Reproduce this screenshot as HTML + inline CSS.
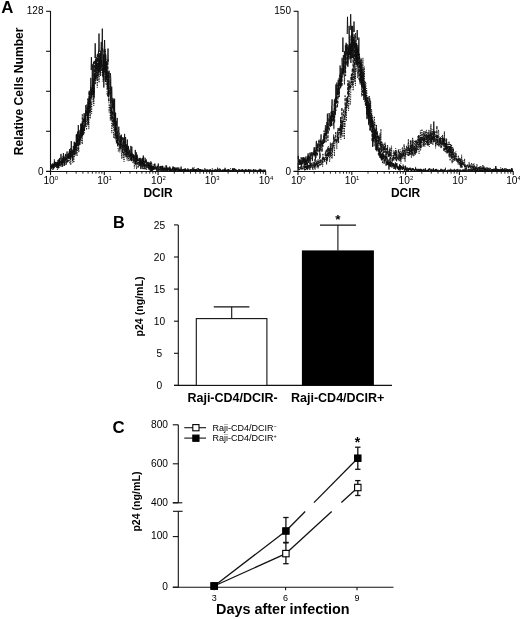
<!DOCTYPE html>
<html><head><meta charset="utf-8"><style>
html,body{margin:0;padding:0;background:#fff;}
svg{display:block;will-change:transform;}
text{font-family:"Liberation Sans", sans-serif;fill:#000;}
</style></head><body>
<svg width="520" height="619" viewBox="0 0 520 619">
<rect width="520" height="619" fill="#fff"/>
<line x1="50.50" y1="11.00" x2="50.50" y2="172.00" stroke="#111" stroke-width="1.1"/>
<line x1="46.10" y1="11.30" x2="50.50" y2="11.30" stroke="#111" stroke-width="1.1"/>
<line x1="46.10" y1="51.30" x2="50.50" y2="51.30" stroke="#111" stroke-width="1.1"/>
<line x1="46.10" y1="91.30" x2="50.50" y2="91.30" stroke="#111" stroke-width="1.1"/>
<line x1="46.10" y1="131.30" x2="50.50" y2="131.30" stroke="#111" stroke-width="1.1"/>
<line x1="46.10" y1="171.30" x2="50.50" y2="171.30" stroke="#111" stroke-width="1.1"/>
<line x1="46.10" y1="171.50" x2="266.10" y2="171.50" stroke="#111" stroke-width="1.1"/>
<line x1="50.50" y1="171.50" x2="50.50" y2="175.10" stroke="#111" stroke-width="1.1"/>
<line x1="66.70" y1="171.50" x2="66.70" y2="173.70" stroke="#111" stroke-width="0.9"/>
<line x1="76.17" y1="171.50" x2="76.17" y2="173.70" stroke="#111" stroke-width="0.9"/>
<line x1="82.89" y1="171.50" x2="82.89" y2="173.70" stroke="#111" stroke-width="0.9"/>
<line x1="88.10" y1="171.50" x2="88.10" y2="173.70" stroke="#111" stroke-width="0.9"/>
<line x1="92.36" y1="171.50" x2="92.36" y2="173.70" stroke="#111" stroke-width="0.9"/>
<line x1="95.97" y1="171.50" x2="95.97" y2="173.70" stroke="#111" stroke-width="0.9"/>
<line x1="99.09" y1="171.50" x2="99.09" y2="173.70" stroke="#111" stroke-width="0.9"/>
<line x1="101.84" y1="171.50" x2="101.84" y2="173.70" stroke="#111" stroke-width="0.9"/>
<text x="50.80" y="184.4" font-size="10.2" text-anchor="middle">10<tspan font-size="6" dy="-4.4">0</tspan></text>
<line x1="104.30" y1="171.50" x2="104.30" y2="175.10" stroke="#111" stroke-width="1.1"/>
<line x1="120.50" y1="171.50" x2="120.50" y2="173.70" stroke="#111" stroke-width="0.9"/>
<line x1="129.97" y1="171.50" x2="129.97" y2="173.70" stroke="#111" stroke-width="0.9"/>
<line x1="136.69" y1="171.50" x2="136.69" y2="173.70" stroke="#111" stroke-width="0.9"/>
<line x1="141.90" y1="171.50" x2="141.90" y2="173.70" stroke="#111" stroke-width="0.9"/>
<line x1="146.16" y1="171.50" x2="146.16" y2="173.70" stroke="#111" stroke-width="0.9"/>
<line x1="149.77" y1="171.50" x2="149.77" y2="173.70" stroke="#111" stroke-width="0.9"/>
<line x1="152.89" y1="171.50" x2="152.89" y2="173.70" stroke="#111" stroke-width="0.9"/>
<line x1="155.64" y1="171.50" x2="155.64" y2="173.70" stroke="#111" stroke-width="0.9"/>
<text x="104.60" y="184.4" font-size="10.2" text-anchor="middle">10<tspan font-size="6" dy="-4.4">1</tspan></text>
<line x1="158.10" y1="171.50" x2="158.10" y2="175.10" stroke="#111" stroke-width="1.1"/>
<line x1="174.30" y1="171.50" x2="174.30" y2="173.70" stroke="#111" stroke-width="0.9"/>
<line x1="183.77" y1="171.50" x2="183.77" y2="173.70" stroke="#111" stroke-width="0.9"/>
<line x1="190.49" y1="171.50" x2="190.49" y2="173.70" stroke="#111" stroke-width="0.9"/>
<line x1="195.70" y1="171.50" x2="195.70" y2="173.70" stroke="#111" stroke-width="0.9"/>
<line x1="199.96" y1="171.50" x2="199.96" y2="173.70" stroke="#111" stroke-width="0.9"/>
<line x1="203.57" y1="171.50" x2="203.57" y2="173.70" stroke="#111" stroke-width="0.9"/>
<line x1="206.69" y1="171.50" x2="206.69" y2="173.70" stroke="#111" stroke-width="0.9"/>
<line x1="209.44" y1="171.50" x2="209.44" y2="173.70" stroke="#111" stroke-width="0.9"/>
<text x="158.40" y="184.4" font-size="10.2" text-anchor="middle">10<tspan font-size="6" dy="-4.4">2</tspan></text>
<line x1="211.90" y1="171.50" x2="211.90" y2="175.10" stroke="#111" stroke-width="1.1"/>
<line x1="228.10" y1="171.50" x2="228.10" y2="173.70" stroke="#111" stroke-width="0.9"/>
<line x1="237.57" y1="171.50" x2="237.57" y2="173.70" stroke="#111" stroke-width="0.9"/>
<line x1="244.29" y1="171.50" x2="244.29" y2="173.70" stroke="#111" stroke-width="0.9"/>
<line x1="249.50" y1="171.50" x2="249.50" y2="173.70" stroke="#111" stroke-width="0.9"/>
<line x1="253.76" y1="171.50" x2="253.76" y2="173.70" stroke="#111" stroke-width="0.9"/>
<line x1="257.37" y1="171.50" x2="257.37" y2="173.70" stroke="#111" stroke-width="0.9"/>
<line x1="260.49" y1="171.50" x2="260.49" y2="173.70" stroke="#111" stroke-width="0.9"/>
<line x1="263.24" y1="171.50" x2="263.24" y2="173.70" stroke="#111" stroke-width="0.9"/>
<text x="212.20" y="184.4" font-size="10.2" text-anchor="middle">10<tspan font-size="6" dy="-4.4">3</tspan></text>
<line x1="265.70" y1="171.50" x2="265.70" y2="175.10" stroke="#111" stroke-width="1.1"/>
<text x="266.00" y="184.4" font-size="10.2" text-anchor="middle">10<tspan font-size="6" dy="-4.4">4</tspan></text>
<text x="43.50" y="14.30" font-size="10" font-weight="normal" text-anchor="end" >128</text>
<text x="43.50" y="175.00" font-size="10" font-weight="normal" text-anchor="end" >0</text>
<text x="158.10" y="196.50" font-size="12" font-weight="bold" text-anchor="middle" >DCIR</text>
<line x1="298.00" y1="11.00" x2="298.00" y2="172.00" stroke="#111" stroke-width="1.1"/>
<line x1="293.60" y1="11.30" x2="298.00" y2="11.30" stroke="#111" stroke-width="1.1"/>
<line x1="293.60" y1="51.30" x2="298.00" y2="51.30" stroke="#111" stroke-width="1.1"/>
<line x1="293.60" y1="91.30" x2="298.00" y2="91.30" stroke="#111" stroke-width="1.1"/>
<line x1="293.60" y1="131.30" x2="298.00" y2="131.30" stroke="#111" stroke-width="1.1"/>
<line x1="293.60" y1="171.30" x2="298.00" y2="171.30" stroke="#111" stroke-width="1.1"/>
<line x1="293.60" y1="171.50" x2="513.60" y2="171.50" stroke="#111" stroke-width="1.1"/>
<line x1="298.00" y1="171.50" x2="298.00" y2="175.10" stroke="#111" stroke-width="1.1"/>
<line x1="314.20" y1="171.50" x2="314.20" y2="173.70" stroke="#111" stroke-width="0.9"/>
<line x1="323.67" y1="171.50" x2="323.67" y2="173.70" stroke="#111" stroke-width="0.9"/>
<line x1="330.39" y1="171.50" x2="330.39" y2="173.70" stroke="#111" stroke-width="0.9"/>
<line x1="335.60" y1="171.50" x2="335.60" y2="173.70" stroke="#111" stroke-width="0.9"/>
<line x1="339.86" y1="171.50" x2="339.86" y2="173.70" stroke="#111" stroke-width="0.9"/>
<line x1="343.47" y1="171.50" x2="343.47" y2="173.70" stroke="#111" stroke-width="0.9"/>
<line x1="346.59" y1="171.50" x2="346.59" y2="173.70" stroke="#111" stroke-width="0.9"/>
<line x1="349.34" y1="171.50" x2="349.34" y2="173.70" stroke="#111" stroke-width="0.9"/>
<text x="298.30" y="184.4" font-size="10.2" text-anchor="middle">10<tspan font-size="6" dy="-4.4">0</tspan></text>
<line x1="351.80" y1="171.50" x2="351.80" y2="175.10" stroke="#111" stroke-width="1.1"/>
<line x1="368.00" y1="171.50" x2="368.00" y2="173.70" stroke="#111" stroke-width="0.9"/>
<line x1="377.47" y1="171.50" x2="377.47" y2="173.70" stroke="#111" stroke-width="0.9"/>
<line x1="384.19" y1="171.50" x2="384.19" y2="173.70" stroke="#111" stroke-width="0.9"/>
<line x1="389.40" y1="171.50" x2="389.40" y2="173.70" stroke="#111" stroke-width="0.9"/>
<line x1="393.66" y1="171.50" x2="393.66" y2="173.70" stroke="#111" stroke-width="0.9"/>
<line x1="397.27" y1="171.50" x2="397.27" y2="173.70" stroke="#111" stroke-width="0.9"/>
<line x1="400.39" y1="171.50" x2="400.39" y2="173.70" stroke="#111" stroke-width="0.9"/>
<line x1="403.14" y1="171.50" x2="403.14" y2="173.70" stroke="#111" stroke-width="0.9"/>
<text x="352.10" y="184.4" font-size="10.2" text-anchor="middle">10<tspan font-size="6" dy="-4.4">1</tspan></text>
<line x1="405.60" y1="171.50" x2="405.60" y2="175.10" stroke="#111" stroke-width="1.1"/>
<line x1="421.80" y1="171.50" x2="421.80" y2="173.70" stroke="#111" stroke-width="0.9"/>
<line x1="431.27" y1="171.50" x2="431.27" y2="173.70" stroke="#111" stroke-width="0.9"/>
<line x1="437.99" y1="171.50" x2="437.99" y2="173.70" stroke="#111" stroke-width="0.9"/>
<line x1="443.20" y1="171.50" x2="443.20" y2="173.70" stroke="#111" stroke-width="0.9"/>
<line x1="447.46" y1="171.50" x2="447.46" y2="173.70" stroke="#111" stroke-width="0.9"/>
<line x1="451.07" y1="171.50" x2="451.07" y2="173.70" stroke="#111" stroke-width="0.9"/>
<line x1="454.19" y1="171.50" x2="454.19" y2="173.70" stroke="#111" stroke-width="0.9"/>
<line x1="456.94" y1="171.50" x2="456.94" y2="173.70" stroke="#111" stroke-width="0.9"/>
<text x="405.90" y="184.4" font-size="10.2" text-anchor="middle">10<tspan font-size="6" dy="-4.4">2</tspan></text>
<line x1="459.40" y1="171.50" x2="459.40" y2="175.10" stroke="#111" stroke-width="1.1"/>
<line x1="475.60" y1="171.50" x2="475.60" y2="173.70" stroke="#111" stroke-width="0.9"/>
<line x1="485.07" y1="171.50" x2="485.07" y2="173.70" stroke="#111" stroke-width="0.9"/>
<line x1="491.79" y1="171.50" x2="491.79" y2="173.70" stroke="#111" stroke-width="0.9"/>
<line x1="497.00" y1="171.50" x2="497.00" y2="173.70" stroke="#111" stroke-width="0.9"/>
<line x1="501.26" y1="171.50" x2="501.26" y2="173.70" stroke="#111" stroke-width="0.9"/>
<line x1="504.87" y1="171.50" x2="504.87" y2="173.70" stroke="#111" stroke-width="0.9"/>
<line x1="507.99" y1="171.50" x2="507.99" y2="173.70" stroke="#111" stroke-width="0.9"/>
<line x1="510.74" y1="171.50" x2="510.74" y2="173.70" stroke="#111" stroke-width="0.9"/>
<text x="459.70" y="184.4" font-size="10.2" text-anchor="middle">10<tspan font-size="6" dy="-4.4">3</tspan></text>
<line x1="513.20" y1="171.50" x2="513.20" y2="175.10" stroke="#111" stroke-width="1.1"/>
<text x="513.50" y="184.4" font-size="10.2" text-anchor="middle">10<tspan font-size="6" dy="-4.4">4</tspan></text>
<text x="291.00" y="14.30" font-size="10" font-weight="normal" text-anchor="end" >150</text>
<text x="291.00" y="175.00" font-size="10" font-weight="normal" text-anchor="end" >0</text>
<text x="405.60" y="196.50" font-size="12" font-weight="bold" text-anchor="middle" >DCIR</text>
<text x="1.20" y="12.60" font-size="16.8" font-weight="bold" text-anchor="start" >A</text>
<text transform="translate(23.4,91.3) rotate(-90)" font-size="12.1" font-weight="bold" text-anchor="middle">Relative Cells Number</text>
<path d="M101.9,50 L102.3,28.6 L102.7,50" fill="none" stroke="#000" stroke-width="0.8"/>
<path d="M98.6,52 L99.0,33.5 L99.4,52" fill="none" stroke="#000" stroke-width="0.8"/>
<path d="M94.8,58 L95.2,43.3 L95.6,58" fill="none" stroke="#000" stroke-width="0.8"/>
<path d="M107.6,62 L108.0,48.5 L108.4,62" fill="none" stroke="#000" stroke-width="0.8"/>
<path d="M91.0,70 L91.4,57.2 L91.8,70" fill="none" stroke="#000" stroke-width="0.8"/>
<path d="M104.2,52 L104.6,40 L105.0,52" fill="none" stroke="#000" stroke-width="0.8"/>
<path d="M350.3,30 L350.7,14.2 L351.1,30" fill="none" stroke="#000" stroke-width="0.8"/>
<path d="M347.1,34 L347.5,16.8 L347.9,34" fill="none" stroke="#000" stroke-width="0.8"/>
<path d="M353.6,32 L354.0,21.5 L354.4,32" fill="none" stroke="#000" stroke-width="0.8"/>
<path d="M342.5,52 L342.9,37.5 L343.3,52" fill="none" stroke="#000" stroke-width="0.8"/>
<path d="M356.8,40 L357.2,30 L357.6,40" fill="none" stroke="#000" stroke-width="0.8"/>
<path d="M433.4,134 L433.8,121.5 L434.2,134" fill="none" stroke="#000" stroke-width="0.8"/>
<defs><filter id="soft" x="-5%" y="-5%" width="110%" height="110%"><feGaussianBlur stdDeviation="0.3"/></filter></defs>
<g filter="url(#soft)">
<path d="M50.6,164.3 50.9,165.1 51.1,164.3 51.4,165.9 51.6,165.1 51.9,165.1 52.1,166.7 52.4,163.5 52.6,164.0 52.9,166.7 53.1,168.3 53.4,164.3 53.6,165.9 53.9,163.5 54.1,166.7 54.4,161.9 54.6,164.3 54.9,162.7 55.1,162.7 55.4,165.1 55.6,163.5 55.9,161.9 56.1,165.9 56.4,164.3 56.6,162.7 56.9,166.7 57.1,162.7 57.4,161.9 57.6,164.3 57.9,167.5 58.1,163.5 58.4,159.5 58.6,168.3 58.9,164.3 59.1,163.5 59.4,158.7 59.6,161.1 59.9,165.9 60.1,165.9 60.4,160.3 60.6,159.5 60.9,153.9 61.1,154.7 61.4,158.7 61.6,164.3 61.9,160.3 62.1,160.3 62.4,160.3 62.6,166.7 62.9,159.5 63.1,161.9 63.4,153.1 63.6,158.7 63.9,165.4 64.1,165.1 64.3,165.9 64.6,164.3 64.8,157.9 65.1,160.3 65.3,154.7 65.6,153.9 65.8,156.3 66.1,160.3 66.3,157.1 66.6,157.1 66.8,153.9 67.1,151.5 67.3,158.7 67.6,156.3 67.8,154.7 68.1,153.9 68.3,156.3 68.6,153.9 68.8,153.1 69.1,156.3 69.3,154.7 69.6,149.1 69.8,153.9 70.1,151.5 70.3,158.7 70.6,150.7 70.8,154.7 71.1,152.3 71.3,141.1 71.6,153.9 71.8,153.9 72.1,149.9 72.3,151.5 72.6,153.9 72.8,160.3 73.1,149.9 73.3,145.9 73.6,148.3 73.8,149.1 74.1,152.3 74.3,148.3 74.6,141.9 74.8,145.1 75.1,149.9 75.3,146.7 75.6,143.5 75.8,149.9 76.1,142.7 76.3,134.7 76.6,146.7 76.8,133.9 77.1,137.1 77.3,142.7 77.6,131.5 77.8,145.9 78.1,141.1 78.3,125.1 78.6,133.9 78.8,133.9 79.1,141.1 79.3,145.1 79.6,137.1 79.8,136.3 80.1,129.9 80.3,140.3 80.6,132.3 80.8,124.3 81.1,129.9 81.3,137.9 81.6,126.7 81.8,124.3 82.1,131.5 82.3,122.7 82.6,136.3 82.8,128.3 83.1,127.5 83.3,122.7 83.6,118.7 83.8,122.7 84.1,113.1 84.3,121.9 84.6,121.1 84.8,118.7 85.1,113.9 85.3,114.7 85.6,125.1 85.8,105.1 86.1,111.5 86.3,112.3 86.6,113.1 86.8,106.7 87.1,104.3 87.3,107.5 87.6,116.3 87.8,120.4 88.1,121.1 88.3,98.7 88.6,114.7 88.8,102.7 89.1,109.1 89.3,90.7 89.6,98.7 89.8,104.3 90.1,96.3 90.3,97.9 90.6,96.3 90.8,77.9 91.1,93.1 91.3,97.1 91.6,91.5 91.8,90.3 92.1,87.5 92.3,64.3 92.6,91.5 92.8,94.7 93.1,82.7 93.3,64.3 93.6,61.9 93.8,73.1 94.1,97.9 94.3,73.1 94.6,73.9 94.8,79.5 95.1,81.1 95.3,75.5 95.6,58.7 95.8,65.1 96.1,68.3 96.3,57.1 96.6,65.1 96.8,64.3 97.1,69.9 97.3,67.5 97.6,63.5 97.8,66.7 98.1,76.3 98.3,53.1 98.6,50.7 98.8,70.7 99.1,72.3 99.3,53.1 99.6,66.7 99.8,64.3 100.1,54.7 100.3,61.1 100.6,58.7 100.8,56.3 101.1,46.7 101.3,41.9 101.6,53.1 101.8,65.9 102.1,65.9 102.3,52.3 102.6,48.3 102.8,49.1 103.1,67.5 103.3,77.1 103.6,54.7 103.8,87.5 104.1,49.9 104.3,67.5 104.6,68.3 104.8,67.5 105.1,67.5 105.3,81.9 105.6,53.9 105.8,61.9 106.1,70.7 106.3,61.1 106.6,80.3 106.8,65.1 107.1,61.9 107.3,77.1 107.6,86.7 107.8,88.3 108.1,73.1 108.3,93.9 108.6,72.3 108.8,77.9 109.1,70.7 109.3,78.7 109.6,78.6 109.8,81.9 110.1,89.1 110.3,73.1 110.6,75.5 110.8,78.7 111.1,120.3 111.3,97.1 111.6,86.7 111.8,86.7 112.1,101.1 112.3,100.3 112.6,108.3 112.8,97.9 113.1,114.7 113.3,102.7 113.6,99.5 113.8,109.9 114.1,101.1 114.3,124.3 114.6,98.7 114.8,120.3 115.1,112.3 115.3,135.5 115.6,113.1 115.8,126.7 116.1,130.7 116.3,121.1 116.6,125.1 116.8,121.9 117.1,118.7 117.3,117.9 117.6,145.9 117.8,133.9 118.1,139.5 118.3,136.3 118.6,129.1 118.8,126.7 119.1,131.5 119.3,133.4 119.6,133.1 119.8,141.9 120.1,149.1 120.3,141.9 120.6,145.1 120.8,135.5 121.1,141.9 121.3,134.7 121.6,142.7 121.8,141.1 122.1,137.9 122.3,139.5 122.6,139.5 122.8,137.1 123.1,144.3 123.3,141.1 123.6,141.1 123.8,137.9 124.1,149.9 124.3,142.7 124.6,133.9 124.8,143.2 125.1,141.9 125.3,150.7 125.6,137.0 125.8,147.5 126.1,149.9 126.3,157.1 126.6,144.3 126.8,149.1 127.1,154.7 127.3,139.5 127.6,152.3 127.8,151.5 128.1,155.5 128.3,145.9 128.6,149.1 128.8,149.1 129.1,150.7 129.3,153.9 129.6,149.9 129.8,151.5 130.1,154.7 130.3,153.9 130.6,156.3 130.8,145.9 131.1,147.5 131.3,161.1 131.6,156.3 131.8,146.7 132.1,154.7 132.3,155.5 132.6,157.1 132.8,153.9 133.1,154.7 133.3,157.9 133.6,154.7 133.8,158.7 134.1,155.5 134.3,155.5 134.6,156.3 134.8,159.5 135.1,157.1 135.3,149.9 135.6,157.9 135.8,164.3 136.1,156.3 136.3,152.3 136.6,160.3 136.8,161.9 137.1,154.7 137.3,161.1 137.6,160.3 137.8,159.5 138.1,159.5 138.3,160.3 138.6,161.1 138.8,161.1 139.1,160.3 139.3,157.9 139.6,163.5 139.8,158.7 140.1,160.3 140.3,159.5 140.6,163.5 140.8,169.1 141.1,163.5 141.3,161.9 141.6,163.5 141.8,158.7 142.1,164.3 142.3,157.9 142.6,159.5 142.8,158.7 143.1,164.3 143.3,155.5 143.6,161.9 143.8,163.5 144.1,165.9 144.3,161.1 144.6,161.9 144.8,165.9 145.1,157.8 145.3,162.7 145.6,160.3 145.8,161.1 146.1,162.7 146.3,159.5 146.6,165.1 146.8,165.9 147.1,164.3 147.3,162.7 147.6,161.9 147.8,165.9 148.1,164.3 148.3,166.7 148.6,162.7 148.8,161.9 149.1,169.9 149.3,162.7 149.6,165.9 149.8,169.1 150.1,164.7 150.3,169.9 150.6,162.7 150.8,162.7 151.1,164.3 151.3,165.1 151.6,171.5 151.8,166.7 152.1,169.9 152.3,166.7 152.6,166.7 152.8,169.9 153.1,166.7 153.3,169.1 153.6,165.9 153.8,167.5 154.1,167.5 154.3,168.3 154.6,168.3 154.8,163.5 155.1,165.9 155.3,166.7 155.6,166.7 155.8,168.3 156.1,168.3 156.3,167.5 156.6,170.7 156.8,168.3 157.1,168.3 157.3,165.9 157.6,167.5 157.8,165.9 158.1,166.7 158.3,163.5 158.6,166.7 158.8,170.7 159.1,169.9 159.3,169.1 159.6,169.9 159.8,168.3 160.1,165.9 160.3,168.3 160.6,166.7 160.8,166.7 161.1,171.5 161.3,169.9 161.6,168.3 161.8,165.9 162.1,169.1 162.3,169.1 162.6,165.9 162.8,165.9 163.1,169.9 163.3,169.1 163.6,170.7 163.8,170.7 164.1,168.3 164.3,169.9 164.6,168.3 164.8,170.7 165.1,169.9 165.3,170.7 165.6,170.7 165.8,169.1 166.1,165.1 166.3,169.9 166.6,167.5 166.8,169.1 167.1,169.9 167.3,170.7 167.6,167.5 167.8,169.9 168.1,169.9 168.3,168.3 168.6,168.3 168.8,169.9 169.1,169.1 169.3,169.1 169.6,169.9 169.8,171.5 170.1,169.1 170.3,169.9 170.6,169.9 170.8,169.1 171.1,169.1 171.3,169.1 171.6,169.9 171.8,169.9 172.1,170.7 172.3,167.9 172.6,169.1 172.8,168.3 173.1,169.1 173.3,166.7 173.6,169.1 173.8,170.7 174.1,169.9 174.3,167.5 174.6,170.7 174.8,169.1 175.1,170.7 175.3,169.9 175.6,168.3 175.8,169.9 176.1,170.7 176.3,169.9 176.6,169.1 176.8,169.1 177.1,169.1 177.3,169.9 177.6,167.5 177.8,168.2 178.1,169.9 178.3,170.7 178.6,171.5 178.8,167.5 179.1,169.1 179.3,171.5 179.6,170.7 179.8,170.7 180.1,169.9 180.3,169.1 180.6,170.7 180.8,171.5 181.1,166.6 181.3,169.1 181.6,169.1 181.8,170.7 182.1,169.9 182.3,169.9 182.6,169.9 182.8,169.1 183.1,171.5 183.3,170.7 183.6,169.1 183.8,171.5 184.1,170.7 184.3,170.7 184.6,170.7 184.8,169.1 185.1,169.9 185.3,168.3 185.6,170.7 185.8,171.5 186.1,170.7 186.3,169.9 186.6,171.5 186.8,169.9 187.1,170.7 187.3,170.7 187.6,169.9 187.8,170.7 188.1,171.5 188.3,169.1 188.6,169.9 188.8,171.5 189.1,170.7 189.3,170.7 189.6,170.7 189.8,169.9 190.1,170.7 190.3,169.9 190.6,169.1 190.8,171.5 191.1,171.5 191.3,170.7 191.6,170.7 191.8,169.9 192.1,169.9 192.3,170.7 192.6,170.7 192.8,170.7 193.1,171.5 193.3,168.3 193.6,171.5 193.8,170.7 194.1,169.9 194.3,169.9 194.6,171.5 194.8,169.1 195.1,171.5 195.3,171.5 195.6,169.9 195.8,170.7 196.1,171.5 196.3,169.1 196.6,171.5 196.8,170.7 197.1,169.9 197.3,171.5 197.6,169.9 197.8,171.5 198.1,171.5 198.3,171.5 198.6,171.5 198.8,170.7 199.1,170.7 199.3,171.5 199.6,169.9 199.8,169.1 200.1,170.7 200.3,169.1 200.6,171.5 200.8,170.7 201.1,170.7 201.3,169.9 201.6,170.7 201.8,170.7 202.1,169.9 202.3,171.5 202.6,170.7 202.8,169.9 203.1,170.7 203.3,170.7 203.6,170.7 203.8,171.5 204.1,170.7 204.3,171.5 204.6,170.7 204.8,171.5 205.1,170.7 205.3,170.7 205.6,170.7 205.8,171.5 206.1,170.7 206.3,170.7 206.6,169.9 206.8,170.7 207.1,171.5 207.3,171.5 207.6,169.9 207.8,171.5 208.1,171.5 208.3,170.7 208.6,171.5 208.8,171.5 209.1,171.5 209.3,169.9 209.6,171.5 209.8,170.7 210.1,170.7 210.3,169.1 210.6,171.5 210.8,170.7 211.1,171.5 211.3,171.5 211.6,171.5 211.8,171.5 212.1,170.7 212.3,170.7 212.6,170.7 212.8,170.7 213.1,171.5 213.3,171.5 213.6,171.5 213.8,171.5 214.1,171.5 214.3,170.7 214.6,171.5 214.8,171.5 215.1,170.7 215.3,169.9 215.6,169.1 215.8,170.7 216.1,169.9 216.3,170.7 216.6,170.7 216.8,171.5 217.1,171.5 217.3,169.9 217.6,171.5 217.8,171.5 218.1,171.5 218.3,170.7 218.6,171.5 218.8,171.5 219.1,171.5 219.3,171.5 219.6,171.5 219.8,170.7 220.1,171.5 220.3,169.1 220.6,171.5 220.8,171.5 221.1,171.5 221.3,170.7 221.6,170.7 221.8,171.5 222.1,171.5 222.3,169.9 222.6,170.8 222.8,169.9 223.1,169.9 223.3,170.7 223.6,169.9 223.8,171.5 224.1,171.5 224.3,170.7 224.6,171.5 224.8,169.9 225.1,167.8 225.3,170.7 225.6,169.9 225.8,171.5 226.1,170.7 226.3,170.7 226.6,169.9 226.8,170.7 227.1,171.5 227.3,169.9 227.6,171.5 227.8,171.5 228.1,171.5 228.3,171.5 228.6,171.5 228.8,171.5 229.1,171.5 229.3,171.5 229.6,171.5 229.8,171.5 230.1,171.5 230.3,170.7 230.6,171.5 230.8,169.9 231.1,169.9 231.3,170.7 231.6,170.7 231.8,170.7 232.1,171.5 232.3,171.5 232.6,168.3 232.8,170.7 233.1,171.5 233.3,168.3 233.6,170.7 233.8,169.9 234.1,169.9 234.3,169.9 234.6,168.3 234.8,171.5 235.1,171.5 235.3,171.5 235.6,170.7 235.8,171.5 236.1,171.5 236.3,169.9 236.6,169.9 236.8,171.5 237.1,171.5 237.3,170.7 237.6,170.7 237.8,170.3 238.1,171.5 238.3,171.5 238.6,171.5 238.8,170.7 239.1,169.1 239.3,170.7 239.6,170.7 239.8,171.5 240.1,170.7 240.3,170.7 240.6,171.5 240.8,171.5 241.1,171.5 241.3,171.5 241.6,171.5 241.8,171.5 242.1,171.5 242.3,169.1 242.6,170.0 242.8,170.7 243.1,170.7 243.3,169.9 243.6,171.5 243.8,171.5 244.1,170.7 244.3,171.5 244.6,171.5 244.8,170.6 245.1,170.7 245.3,171.5 245.6,169.9 245.8,169.1 246.1,170.7 246.3,170.7 246.6,170.7 246.8,171.5 247.1,171.5 247.3,171.5 247.6,170.7 247.8,171.5 248.1,171.5 248.3,171.5 248.6,171.5 248.8,169.1 249.1,171.5 249.3,171.5 249.6,170.7 249.8,171.5 250.1,170.7 250.3,170.7 250.6,170.7 250.8,171.5 251.1,171.5 251.3,170.7 251.6,171.5 251.8,170.7 252.1,171.5 252.3,171.5 252.6,170.7 252.8,171.5 253.1,171.5 253.3,169.9 253.6,169.1 253.8,170.7 254.1,171.5 254.3,171.5 254.6,170.7 254.8,169.9 255.1,171.5 255.3,171.5 255.6,171.5 255.8,171.5 256.1,170.7 256.4,170.7 256.6,171.5 256.9,170.7 257.1,170.7 257.4,170.7 257.6,170.7 257.9,171.5 258.1,170.7 258.4,171.2 258.6,169.9 258.9,169.9 259.1,169.9 259.4,171.5 259.6,171.5 259.9,169.9 260.1,171.5 260.4,171.5 260.6,169.1 260.9,171.5 261.1,171.5 261.4,171.5 261.6,170.7 261.9,170.7 262.1,171.5 262.4,171.5 262.6,170.7 262.9,171.5 263.1,170.7 263.4,171.5 263.6,170.7 263.9,171.5 264.1,171.5 264.4,170.7 264.6,171.5 264.9,170.7 265.1,170.7 265.4,171.5" fill="none" stroke="#111" stroke-width="0.85"/>
<path d="M50.6,168.3 50.9,169.1 51.1,165.1 51.4,166.7 51.6,168.3 51.9,164.3 52.1,165.1 52.4,165.9 52.6,168.3 52.9,169.9 53.1,164.3 53.4,166.7 53.6,168.3 53.9,167.5 54.1,168.3 54.4,159.3 54.6,166.7 54.9,164.3 55.1,161.9 55.4,165.9 55.6,164.3 55.9,163.5 56.1,161.9 56.4,165.1 56.6,164.3 56.9,165.1 57.1,163.5 57.4,167.5 57.6,164.3 57.9,167.5 58.1,162.7 58.4,164.3 58.6,166.7 58.9,163.5 59.1,163.5 59.4,163.5 59.6,159.5 59.9,157.9 60.1,163.5 60.4,161.1 60.6,162.7 60.9,164.3 61.1,166.7 61.4,164.3 61.6,160.3 61.9,162.7 62.1,157.1 62.4,160.3 62.6,162.7 62.9,159.5 63.1,159.5 63.4,156.3 63.6,161.9 63.9,162.7 64.1,160.3 64.3,157.9 64.6,156.3 64.8,162.7 65.1,161.1 65.3,161.1 65.6,157.1 65.8,154.7 66.1,156.3 66.3,157.9 66.6,162.7 66.8,162.7 67.1,159.5 67.3,162.7 67.6,154.7 67.8,157.9 68.1,155.5 68.3,158.7 68.6,155.5 68.8,154.7 69.1,158.7 69.3,150.7 69.6,158.7 69.8,155.5 70.1,153.9 70.3,158.7 70.6,148.3 70.8,158.7 71.1,157.9 71.3,156.3 71.6,154.7 71.8,155.5 72.1,151.5 72.3,157.9 72.6,155.5 72.8,153.9 73.1,151.5 73.3,153.9 73.6,150.7 73.8,150.7 74.1,141.9 74.3,155.5 74.6,144.3 74.8,151.5 75.1,145.9 75.3,142.7 75.6,147.5 75.8,144.3 76.1,153.9 76.3,152.3 76.6,139.5 76.8,141.9 77.1,144.7 77.3,145.9 77.6,142.7 77.8,137.1 78.1,150.7 78.3,143.5 78.6,136.3 78.8,133.1 79.1,130.7 79.3,138.7 79.6,141.1 79.8,136.3 80.1,135.5 80.3,136.3 80.6,134.7 80.8,130.7 81.1,122.7 81.3,129.9 81.6,132.3 81.8,126.7 82.1,134.7 82.3,114.4 82.6,130.7 82.8,126.7 83.1,134.7 83.3,127.5 83.6,134.7 83.8,130.7 84.1,125.9 84.3,131.5 84.6,123.5 84.8,124.3 85.1,117.9 85.3,127.5 85.6,109.9 85.8,122.7 86.1,111.5 86.3,114.7 86.6,116.3 86.8,111.5 87.1,113.1 87.3,107.5 87.6,119.5 87.8,98.7 88.1,103.5 88.3,125.1 88.6,114.7 88.8,110.7 89.1,91.5 89.3,101.9 89.6,113.1 89.8,97.1 90.1,102.7 90.3,111.5 90.6,93.1 90.8,86.7 91.1,94.7 91.3,91.5 91.6,98.7 91.8,88.3 92.1,90.7 92.3,87.5 92.6,89.1 92.8,82.7 93.1,97.1 93.3,81.1 93.6,81.9 93.8,94.7 94.1,72.3 94.3,60.3 94.6,77.9 94.8,73.9 95.1,77.9 95.3,77.1 95.6,78.7 95.8,69.9 96.1,70.7 96.3,65.9 96.6,73.9 96.8,78.7 97.1,64.3 97.3,53.9 97.6,61.9 97.8,55.5 98.1,64.3 98.3,70.7 98.6,71.5 98.8,66.7 99.1,72.3 99.3,60.3 99.6,66.7 99.8,59.5 100.1,72.3 100.3,75.5 100.6,50.7 100.8,69.1 101.1,51.5 101.3,64.3 101.6,60.3 101.8,70.7 102.1,64.3 102.3,73.1 102.6,71.5 102.8,68.3 103.1,76.3 103.3,65.1 103.6,63.5 103.8,72.3 104.1,72.3 104.3,70.7 104.6,65.1 104.8,69.1 105.1,49.9 105.3,79.5 105.6,81.9 105.8,55.5 106.1,73.9 106.3,69.1 106.6,70.7 106.8,74.7 107.1,73.9 107.3,89.1 107.6,77.9 107.8,59.5 108.1,79.5 108.3,97.1 108.6,89.9 108.8,101.9 109.1,89.1 109.3,88.3 109.6,94.7 109.8,88.3 110.1,80.3 110.3,82.7 110.6,103.5 110.8,88.3 111.1,105.9 111.3,113.1 111.6,107.5 111.8,117.9 112.1,118.7 112.3,111.5 112.6,121.9 112.8,110.7 113.1,126.7 113.3,121.1 113.6,117.9 113.8,122.7 114.1,118.7 114.3,119.5 114.6,131.5 114.8,119.5 115.1,125.9 115.3,131.5 115.6,131.5 115.8,125.9 116.1,137.9 116.3,124.3 116.6,143.5 116.8,134.7 117.1,136.3 117.3,134.7 117.6,131.5 117.8,136.3 118.1,138.7 118.3,145.9 118.6,141.9 118.8,140.3 119.1,136.3 119.3,141.9 119.6,140.3 119.8,140.3 120.1,142.7 120.3,136.3 120.6,140.3 120.8,145.1 121.1,149.1 121.3,140.3 121.6,146.7 121.8,146.7 122.1,143.1 122.3,151.5 122.6,153.1 122.8,145.1 123.1,148.3 123.3,148.3 123.6,141.1 123.8,153.9 124.1,150.7 124.3,141.9 124.6,152.3 124.8,149.1 125.1,151.5 125.3,155.5 125.6,144.3 125.8,146.7 126.1,153.1 126.3,148.3 126.6,153.1 126.8,146.7 127.1,147.5 127.3,152.7 127.6,155.5 127.8,157.1 128.1,155.5 128.3,155.5 128.6,146.7 128.8,155.5 129.1,153.9 129.3,157.1 129.6,155.5 129.8,153.9 130.1,159.5 130.3,157.9 130.6,155.5 130.8,155.5 131.1,157.1 131.3,159.5 131.6,156.3 131.8,152.3 132.1,157.9 132.3,153.9 132.6,157.0 132.8,157.1 133.1,161.1 133.3,157.9 133.6,161.1 133.8,154.7 134.1,159.5 134.3,161.9 134.6,159.5 134.8,159.5 135.1,157.1 135.3,164.3 135.6,160.3 135.8,162.7 136.1,157.1 136.3,159.5 136.6,160.3 136.8,155.5 137.1,164.3 137.3,161.9 137.6,162.7 137.8,162.7 138.1,167.5 138.3,159.5 138.6,162.7 138.8,161.9 139.1,162.7 139.3,165.1 139.6,162.7 139.8,165.9 140.1,161.1 140.3,157.9 140.6,163.5 140.8,164.3 141.1,159.5 141.3,165.1 141.6,161.9 141.8,164.3 142.1,166.7 142.3,161.9 142.6,159.5 142.8,158.7 143.1,166.7 143.3,163.5 143.6,156.9 143.8,169.1 144.1,164.3 144.3,166.7 144.6,165.1 144.8,168.3 145.1,164.3 145.3,165.9 145.6,164.3 145.8,165.9 146.1,166.7 146.3,168.3 146.6,166.7 146.8,164.3 147.1,162.7 147.3,166.7 147.6,164.3 147.8,165.9 148.1,164.3 148.3,166.7 148.6,164.3 148.8,169.1 149.1,165.9 149.3,166.7 149.6,166.7 149.8,168.3 150.1,166.7 150.3,165.9 150.6,168.3 150.8,161.1 151.1,163.5 151.3,166.7 151.6,162.7 151.8,169.1 152.1,168.3 152.3,167.5 152.6,170.7 152.8,168.3 153.1,164.3 153.3,169.1 153.6,168.3 153.8,169.9 154.1,167.5 154.3,169.1 154.6,164.3 154.8,167.5 155.1,169.1 155.3,169.9 155.6,169.9 155.8,167.5 156.1,169.1 156.3,169.1 156.6,167.5 156.8,168.3 157.1,168.3 157.3,171.5 157.6,167.5 157.8,169.1 158.1,170.7 158.3,169.9 158.6,169.9 158.8,166.7 159.1,168.3 159.3,167.5 159.6,168.3 159.8,169.9 160.1,169.1 160.3,169.1 160.6,170.2 160.8,165.9 161.1,168.3 161.3,169.9 161.6,168.3 161.8,169.9 162.1,170.7 162.3,165.8 162.6,169.1 162.8,166.7 163.1,170.7 163.3,167.5 163.6,168.3 163.8,169.9 164.1,170.7 164.3,170.7 164.6,169.1 164.8,168.3 165.1,170.7 165.3,170.7 165.6,170.7 165.8,168.3 166.1,168.3 166.3,170.7 166.6,165.9 166.8,171.5 167.1,170.7 167.3,169.1 167.6,169.1 167.8,169.1 168.1,169.1 168.3,168.3 168.6,169.1 168.8,167.5 169.1,171.5 169.3,169.1 169.6,170.7 169.8,166.7 170.1,169.9 170.3,171.5 170.6,169.1 170.8,169.9 171.1,170.7 171.3,169.1 171.6,169.1 171.8,169.1 172.1,170.7 172.3,169.9 172.6,169.1 172.8,166.7 173.1,170.7 173.3,169.9 173.6,170.7 173.8,170.7 174.1,170.7 174.3,170.7 174.6,167.5 174.8,171.5 175.1,169.1 175.3,169.9 175.6,170.7 175.8,167.5 176.1,170.7 176.3,170.7 176.6,167.5 176.8,169.9 177.1,169.9 177.3,170.7 177.6,171.5 177.8,170.7 178.1,171.5 178.3,168.3 178.6,171.5 178.8,170.7 179.1,171.5 179.3,169.9 179.6,171.5 179.8,169.9 180.1,170.7 180.3,171.5 180.6,170.7 180.8,170.7 181.1,170.7 181.3,170.7 181.6,169.9 181.8,171.5 182.1,171.5 182.3,169.9 182.6,170.7 182.8,170.7 183.1,170.7 183.3,171.5 183.6,171.5 183.8,171.5 184.1,169.9 184.3,169.9 184.6,171.5 184.8,171.5 185.1,169.1 185.3,171.5 185.6,170.7 185.8,170.7 186.1,169.9 186.3,171.5 186.6,171.5 186.8,169.9 187.1,170.7 187.3,169.1 187.6,171.5 187.8,171.5 188.1,170.7 188.3,171.5 188.6,169.9 188.8,170.7 189.1,170.7 189.3,171.5 189.6,170.7 189.8,170.7 190.1,169.1 190.3,171.5 190.6,170.7 190.8,169.8 191.1,170.7 191.3,170.7 191.6,171.5 191.8,169.9 192.1,169.9 192.3,169.9 192.6,167.7 192.8,171.5 193.1,171.5 193.3,170.7 193.6,170.7 193.8,171.5 194.1,168.3 194.3,171.5 194.6,169.9 194.8,171.5 195.1,170.7 195.3,170.7 195.6,169.1 195.8,170.7 196.1,170.7 196.3,169.9 196.6,170.7 196.8,170.7 197.1,170.7 197.3,168.4 197.6,170.7 197.8,171.5 198.1,170.7 198.3,171.5 198.6,168.4 198.8,170.7 199.1,169.9 199.3,170.7 199.6,171.5 199.8,169.1 200.1,170.7 200.3,169.1 200.6,170.7 200.8,169.9 201.1,169.9 201.3,169.9 201.6,171.5 201.8,171.5 202.1,170.7 202.3,169.9 202.6,169.9 202.8,169.9 203.1,170.9 203.3,169.9 203.6,170.7 203.8,169.9 204.1,170.7 204.3,170.7 204.6,170.7 204.8,168.3 205.1,170.7 205.3,170.7 205.6,171.5 205.8,170.7 206.1,171.5 206.3,171.5 206.6,171.5 206.8,169.9 207.1,170.7 207.3,170.7 207.6,169.9 207.8,169.9 208.1,171.5 208.3,169.9 208.6,170.7 208.8,170.7 209.1,171.5 209.3,170.7 209.6,171.5 209.8,171.5 210.1,171.5 210.3,171.5 210.6,170.7 210.8,169.9 211.1,169.9 211.3,170.7 211.6,171.5 211.8,169.9 212.1,170.7 212.3,169.9 212.6,170.7 212.8,169.9 213.1,169.9 213.3,170.7 213.6,171.5 213.8,171.5 214.1,171.5 214.3,169.9 214.6,170.7 214.8,171.5 215.1,171.5 215.3,171.5 215.6,171.5 215.8,170.7 216.1,170.7 216.3,169.9 216.6,170.7 216.8,170.8 217.1,170.7 217.3,170.7 217.6,167.7 217.8,170.7 218.1,171.5 218.3,170.7 218.6,171.5 218.8,171.5 219.1,169.1 219.3,171.5 219.6,170.7 219.8,171.5 220.1,170.7 220.3,170.7 220.6,170.7 220.8,170.7 221.1,171.5 221.3,171.5 221.6,171.5 221.8,171.5 222.1,171.5 222.3,171.5 222.6,171.5 222.8,171.5 223.1,170.7 223.3,170.7 223.6,169.9 223.8,170.7 224.1,169.9 224.3,171.5 224.6,169.1 224.8,171.5 225.1,169.9 225.3,170.7 225.6,170.7 225.8,171.5 226.1,171.5 226.3,170.7 226.6,171.5 226.8,169.9 227.1,171.5 227.3,169.9 227.6,169.9 227.8,170.7 228.1,171.5 228.3,169.1 228.6,171.5 228.8,169.1 229.1,170.7 229.3,171.5 229.6,170.7 229.8,171.5 230.1,170.7 230.3,171.5 230.6,171.5 230.8,171.5 231.1,170.7 231.3,170.7 231.6,171.5 231.8,170.7 232.1,171.5 232.3,171.5 232.6,171.5 232.8,169.1 233.1,171.5 233.3,170.7 233.6,170.7 233.8,170.7 234.1,169.9 234.3,169.9 234.6,169.9 234.8,171.5 235.1,169.9 235.3,169.9 235.6,169.9 235.8,170.7 236.1,171.5 236.3,169.9 236.6,171.5 236.8,170.7 237.1,170.7 237.3,170.7 237.6,171.5 237.8,170.7 238.1,171.5 238.3,170.7 238.6,171.5 238.8,170.7 239.1,171.5 239.3,169.9 239.6,171.5 239.8,171.5 240.1,171.5 240.3,170.7 240.6,171.5 240.8,170.7 241.1,171.5 241.3,169.1 241.6,170.7 241.8,169.9 242.1,171.5 242.3,169.9 242.6,171.5 242.8,170.7 243.1,171.5 243.3,169.9 243.6,171.5 243.8,171.5 244.1,170.7 244.3,169.9 244.6,169.9 244.8,171.5 245.1,170.7 245.3,171.5 245.6,171.5 245.8,170.7 246.1,168.8 246.3,171.5 246.6,169.9 246.8,170.7 247.1,171.5 247.3,171.5 247.6,170.7 247.8,170.7 248.1,170.7 248.3,169.9 248.6,171.5 248.8,171.5 249.1,170.7 249.3,169.9 249.6,170.7 249.8,171.5 250.1,169.9 250.3,170.7 250.6,171.5 250.8,169.5 251.1,170.7 251.3,170.7 251.6,170.7 251.8,171.5 252.1,171.5 252.3,170.7 252.6,171.5 252.8,171.5 253.1,171.5 253.3,169.1 253.6,170.7 253.8,170.7 254.1,170.7 254.3,171.5 254.6,171.5 254.8,171.5 255.1,169.9 255.3,170.7 255.6,170.7 255.8,171.5 256.1,170.7 256.4,169.9 256.6,170.7 256.9,170.7 257.1,171.5 257.4,171.5 257.6,170.7 257.9,171.5 258.1,170.7 258.4,170.7 258.6,171.5 258.9,170.7 259.1,171.5 259.4,171.5 259.6,171.5 259.9,168.3 260.1,171.5 260.4,171.5 260.6,170.7 260.9,170.7 261.1,169.9 261.4,171.5 261.6,170.7 261.9,171.5 262.1,171.5 262.4,170.7 262.6,171.5 262.9,171.5 263.1,169.1 263.4,170.7 263.6,171.5 263.9,170.7 264.1,171.5 264.4,171.5 264.6,170.7 264.9,171.5 265.1,169.6 265.4,171.5" fill="none" stroke="#111" stroke-width="0.85" stroke-dasharray="3 1.2"/>
<path d="M50.6,170.7 50.9,169.1 51.1,169.1 51.4,166.7 51.6,169.1 51.9,165.9 52.1,167.5 52.4,165.9 52.6,165.9 52.9,167.5 53.1,167.5 53.4,164.3 53.6,169.1 53.9,168.3 54.1,165.9 54.4,165.1 54.6,167.5 54.9,165.9 55.1,163.5 55.4,165.9 55.6,167.5 55.9,165.9 56.1,166.7 56.4,165.1 56.6,168.3 56.9,166.7 57.1,163.5 57.4,169.9 57.6,160.3 57.9,162.7 58.1,165.9 58.4,165.9 58.6,163.5 58.9,160.3 59.1,167.5 59.4,161.1 59.6,165.4 59.9,161.1 60.1,165.1 60.4,165.1 60.6,165.1 60.9,165.1 61.1,165.9 61.4,165.1 61.6,161.9 61.9,164.3 62.1,165.1 62.4,161.1 62.6,164.3 62.9,156.3 63.1,162.7 63.4,161.1 63.6,155.5 63.9,161.9 64.1,161.1 64.3,161.1 64.6,165.1 64.8,159.5 65.1,165.1 65.3,157.9 65.6,157.9 65.8,157.9 66.1,160.3 66.3,165.1 66.6,158.7 66.8,158.7 67.1,161.1 67.3,161.9 67.6,161.1 67.8,162.7 68.1,156.3 68.3,153.9 68.6,161.9 68.8,157.1 69.1,157.1 69.3,154.7 69.6,156.3 69.8,163.5 70.1,161.9 70.3,158.7 70.6,157.1 70.8,165.1 71.1,152.3 71.3,157.1 71.6,153.1 71.8,156.3 72.1,156.3 72.3,153.1 72.6,162.7 72.8,149.9 73.1,152.3 73.3,149.1 73.6,154.7 73.8,162.7 74.1,148.3 74.3,157.1 74.6,148.3 74.8,148.3 75.1,154.7 75.3,143.5 75.6,152.3 75.8,155.5 76.1,143.5 76.3,149.9 76.6,147.5 76.8,153.9 77.1,156.3 77.3,153.1 77.6,147.5 77.8,146.7 78.1,140.3 78.3,146.7 78.6,147.5 78.8,152.3 79.1,136.3 79.3,144.3 79.6,134.7 79.8,140.3 80.1,145.1 80.3,143.5 80.6,141.1 80.8,136.3 81.1,142.7 81.3,137.1 81.6,131.5 81.8,135.5 82.1,126.7 82.3,144.3 82.6,120.2 82.8,127.5 83.1,125.9 83.3,123.5 83.6,128.3 83.8,129.9 84.1,133.9 84.3,124.3 84.6,131.5 84.8,118.7 85.1,122.7 85.3,115.5 85.6,119.5 85.8,117.1 86.1,120.3 86.3,125.9 86.6,129.9 86.8,122.7 87.1,119.5 87.3,118.7 87.6,125.1 87.8,112.3 88.1,115.5 88.3,117.1 88.6,121.1 88.8,129.1 89.1,119.5 89.3,117.9 89.6,111.5 89.8,108.3 90.1,108.3 90.3,118.7 90.6,101.9 90.8,99.5 91.1,107.5 91.3,101.9 91.6,113.9 91.8,107.5 92.1,93.1 92.3,85.1 92.6,94.7 92.8,90.7 93.1,83.5 93.3,102.7 93.6,78.7 93.8,105.9 94.1,87.5 94.3,93.1 94.6,71.5 94.8,66.7 95.1,73.9 95.3,60.3 95.6,84.3 95.8,76.3 96.1,80.3 96.3,73.9 96.6,61.9 96.8,77.1 97.1,72.3 97.3,87.5 97.6,53.9 97.8,81.1 98.1,69.1 98.3,67.5 98.6,62.7 98.8,64.3 99.1,82.7 99.3,62.7 99.6,68.3 99.8,62.7 100.1,71.5 100.3,60.3 100.6,76.3 100.8,75.5 101.1,69.9 101.3,70.7 101.6,60.3 101.8,61.9 102.1,68.3 102.3,68.3 102.6,76.3 102.8,67.5 103.1,81.9 103.3,57.9 103.6,66.7 103.8,80.3 104.1,54.7 104.3,72.3 104.6,59.5 104.8,72.4 105.1,49.1 105.3,65.1 105.6,62.7 105.8,59.5 106.1,85.1 106.3,82.7 106.6,73.9 106.8,72.3 107.1,94.7 107.3,93.1 107.6,96.3 107.8,92.3 108.1,89.1 108.3,78.7 108.6,95.5 108.8,91.5 109.1,112.3 109.3,109.1 109.6,105.1 109.8,104.3 110.1,110.7 110.3,120.3 110.6,106.7 110.8,113.1 111.1,112.3 111.3,119.5 111.6,118.7 111.8,133.1 112.1,123.5 112.3,122.7 112.6,121.1 112.8,120.3 113.1,126.7 113.3,112.9 113.6,137.9 113.8,137.1 114.1,133.1 114.3,133.9 114.6,138.7 114.8,138.7 115.1,137.9 115.3,136.3 115.6,128.6 115.8,140.3 116.1,129.9 116.3,143.5 116.6,141.9 116.8,135.5 117.1,138.7 117.3,143.5 117.6,142.7 117.8,139.5 118.1,148.3 118.3,151.5 118.6,151.5 118.8,148.3 119.1,148.3 119.3,149.1 119.6,142.7 119.8,152.3 120.1,147.5 120.3,143.5 120.6,148.3 120.8,144.3 121.1,148.3 121.3,148.3 121.6,158.7 121.8,157.1 122.1,147.3 122.3,145.1 122.6,152.3 122.8,142.7 123.1,158.7 123.3,153.1 123.6,151.5 123.8,158.7 124.1,161.9 124.3,157.1 124.6,152.3 124.8,155.5 125.1,153.1 125.3,153.9 125.6,155.5 125.8,157.1 126.1,157.1 126.3,153.9 126.6,153.1 126.8,157.1 127.1,160.3 127.3,158.7 127.6,152.3 127.8,152.3 128.1,154.7 128.3,161.1 128.6,155.5 128.8,157.1 129.1,157.9 129.3,154.7 129.6,157.1 129.8,161.1 130.1,160.3 130.3,159.5 130.6,160.3 130.8,153.1 131.1,155.5 131.3,160.8 131.6,157.9 131.8,161.1 132.1,157.1 132.3,157.9 132.6,159.5 132.8,161.9 133.1,163.5 133.3,161.7 133.6,160.3 133.8,159.5 134.1,163.5 134.3,168.3 134.6,167.5 134.8,160.3 135.1,163.5 135.3,159.5 135.6,165.1 135.8,162.7 136.1,160.3 136.3,165.9 136.6,169.1 136.8,163.5 137.1,161.9 137.3,156.3 137.6,161.1 137.8,161.1 138.1,157.9 138.3,165.1 138.6,166.7 138.8,165.9 139.1,163.5 139.3,163.5 139.6,163.5 139.8,165.9 140.1,165.9 140.3,165.1 140.6,165.1 140.8,162.7 141.1,168.3 141.3,161.9 141.6,165.9 141.8,165.9 142.1,165.9 142.3,162.7 142.6,169.1 142.8,161.1 143.1,164.3 143.3,164.3 143.6,164.3 143.8,162.7 144.1,169.1 144.3,166.7 144.6,166.7 144.8,169.1 145.1,167.5 145.3,164.3 145.6,164.3 145.8,169.9 146.1,168.3 146.3,168.3 146.6,169.9 146.8,165.9 147.1,166.7 147.3,168.3 147.6,167.5 147.8,168.3 148.1,165.9 148.3,168.3 148.6,165.1 148.8,168.3 149.1,166.7 149.3,169.1 149.6,168.3 149.8,165.9 150.1,170.7 150.3,165.9 150.6,169.1 150.8,171.5 151.1,165.9 151.3,169.1 151.6,167.5 151.8,167.5 152.1,171.5 152.3,166.2 152.6,168.3 152.8,171.5 153.1,168.3 153.3,169.9 153.6,169.1 153.8,169.9 154.1,167.5 154.3,167.5 154.6,169.1 154.8,168.3 155.1,168.3 155.3,168.3 155.6,167.5 155.8,167.5 156.1,165.9 156.3,169.9 156.6,169.9 156.8,169.9 157.1,169.9 157.3,167.5 157.6,169.9 157.8,170.7 158.1,169.9 158.3,170.7 158.6,169.9 158.8,169.9 159.1,169.1 159.3,169.1 159.6,170.7 159.8,169.1 160.1,169.9 160.3,170.7 160.6,170.7 160.8,169.9 161.1,169.1 161.3,169.9 161.6,171.5 161.8,169.1 162.1,170.7 162.3,169.1 162.6,170.7 162.8,169.1 163.1,168.3 163.3,169.1 163.6,171.5 163.8,169.1 164.1,168.3 164.3,169.1 164.6,169.1 164.8,166.7 165.1,169.9 165.3,169.1 165.6,169.1 165.8,169.9 166.1,169.9 166.3,169.9 166.6,168.3 166.8,169.1 167.1,168.3 167.3,170.7 167.6,169.1 167.8,169.1 168.1,171.5 168.3,170.7 168.6,171.5 168.8,171.5 169.1,171.5 169.3,170.7 169.6,166.7 169.8,170.7 170.1,171.5 170.3,167.5 170.6,170.7 170.8,170.7 171.1,170.7 171.3,170.7 171.6,170.7 171.8,170.7 172.1,169.1 172.3,170.7 172.6,168.3 172.8,169.9 173.1,169.9 173.3,169.9 173.6,170.7 173.8,169.1 174.1,169.9 174.3,171.5 174.6,169.1 174.8,170.7 175.1,169.9 175.3,168.3 175.6,169.9 175.8,170.7 176.1,170.7 176.3,168.3 176.6,169.9 176.8,170.7 177.1,170.7 177.3,171.5 177.6,169.9 177.8,170.7 178.1,169.9 178.3,169.9 178.6,170.7 178.8,171.5 179.1,171.5 179.3,169.1 179.6,169.9 179.8,170.7 180.1,170.7 180.3,169.9 180.6,170.7 180.8,168.3 181.1,169.1 181.3,170.7 181.6,170.7 181.8,169.9 182.1,170.7 182.3,170.7 182.6,171.5 182.8,170.7 183.1,170.7 183.3,170.7 183.6,171.5 183.8,170.7 184.1,170.7 184.3,168.3 184.6,170.7 184.8,171.5 185.1,169.9 185.3,170.7 185.6,169.9 185.8,171.5 186.1,170.7 186.3,171.5 186.6,171.5 186.8,170.7 187.1,171.5 187.3,169.9 187.6,171.5 187.8,168.3 188.1,171.5 188.3,171.5 188.6,170.7 188.8,169.9 189.1,171.5 189.3,170.7 189.6,171.5 189.8,170.7 190.1,171.5 190.3,170.7 190.6,170.7 190.8,170.7 191.1,171.5 191.3,171.5 191.6,169.1 191.8,169.1 192.1,169.9 192.3,170.7 192.6,171.5 192.8,171.5 193.1,170.7 193.3,171.5 193.6,171.5 193.8,171.5 194.1,167.5 194.3,169.9 194.6,170.7 194.8,169.9 195.1,169.9 195.3,170.7 195.6,169.9 195.8,169.1 196.1,169.9 196.3,171.5 196.6,171.5 196.8,171.5 197.1,171.5 197.3,171.5 197.6,171.5 197.8,170.7 198.1,170.7 198.3,168.3 198.6,171.5 198.8,171.5 199.1,171.5 199.3,171.5 199.6,170.7 199.8,171.5 200.1,170.7 200.3,169.9 200.6,169.1 200.8,169.1 201.1,171.5 201.3,170.7 201.6,169.9 201.8,169.9 202.1,170.7 202.3,170.7 202.6,171.5 202.8,170.7 203.1,171.5 203.3,171.5 203.6,171.5 203.8,171.5 204.1,170.7 204.3,171.5 204.6,170.7 204.8,171.5 205.1,170.7 205.3,169.9 205.6,170.7 205.8,169.1 206.1,170.7 206.3,169.9 206.6,171.5 206.8,169.9 207.1,170.7 207.3,169.1 207.6,171.5 207.8,169.9 208.1,169.9 208.3,169.9 208.6,169.9 208.8,170.7 209.1,170.7 209.3,169.1 209.6,170.7 209.8,170.7 210.1,170.7 210.3,171.5 210.6,171.5 210.8,171.5 211.1,170.7 211.3,170.7 211.6,171.5 211.8,170.7 212.1,171.5 212.3,168.3 212.6,171.5 212.8,171.5 213.1,169.9 213.3,170.7 213.6,171.5 213.8,170.7 214.1,170.7 214.3,171.5 214.6,169.1 214.8,169.2 215.1,168.9 215.3,170.7 215.6,171.5 215.8,171.5 216.1,171.5 216.3,169.9 216.6,169.9 216.8,170.7 217.1,171.5 217.3,171.5 217.6,169.9 217.8,170.7 218.1,171.5 218.3,170.7 218.6,169.9 218.8,168.3 219.1,171.5 219.3,170.7 219.6,169.9 219.8,168.3 220.1,171.5 220.3,171.5 220.6,171.5 220.8,171.5 221.1,170.7 221.3,170.7 221.6,171.5 221.8,169.9 222.1,171.5 222.3,170.7 222.6,171.5 222.8,169.1 223.1,171.5 223.3,171.5 223.6,171.5 223.8,171.5 224.1,169.1 224.3,170.7 224.6,171.5 224.8,169.9 225.1,170.7 225.3,171.5 225.6,170.7 225.8,169.9 226.1,171.5 226.3,170.7 226.6,171.5 226.8,170.7 227.1,170.7 227.3,169.9 227.6,169.1 227.8,171.5 228.1,171.5 228.3,170.7 228.6,170.7 228.8,169.9 229.1,170.7 229.3,170.7 229.6,171.5 229.8,169.9 230.1,171.5 230.3,169.1 230.6,168.3 230.8,170.7 231.1,170.7 231.3,170.7 231.6,171.5 231.8,171.5 232.1,171.5 232.3,171.5 232.6,171.5 232.8,171.5 233.1,171.5 233.3,169.9 233.6,169.5 233.8,169.9 234.1,171.5 234.3,171.5 234.6,171.5 234.8,171.5 235.1,169.1 235.3,168.4 235.6,171.5 235.8,170.7 236.1,171.5 236.3,170.7 236.6,171.5 236.8,169.9 237.1,171.5 237.3,171.5 237.6,171.5 237.8,171.5 238.1,171.5 238.3,171.5 238.6,171.5 238.8,169.1 239.1,171.5 239.3,171.5 239.6,171.5 239.8,170.7 240.1,171.5 240.3,171.5 240.6,169.9 240.8,171.5 241.1,171.5 241.3,170.7 241.6,171.5 241.8,171.5 242.1,171.5 242.3,171.5 242.6,170.7 242.8,169.9 243.1,170.7 243.3,171.5 243.6,171.5 243.8,171.5 244.1,171.5 244.3,170.7 244.6,171.5 244.8,170.7 245.1,170.7 245.3,171.5 245.6,170.7 245.8,170.7 246.1,170.7 246.3,170.7 246.6,171.5 246.8,170.7 247.1,171.5 247.3,170.7 247.6,169.9 247.8,170.7 248.1,171.5 248.3,169.1 248.6,170.7 248.8,171.5 249.1,169.9 249.3,170.7 249.6,171.5 249.8,170.7 250.1,171.5 250.3,171.5 250.6,171.5 250.8,169.9 251.1,170.7 251.3,170.7 251.6,170.7 251.8,170.7 252.1,170.7 252.3,171.5 252.6,171.5 252.8,171.5 253.1,171.5 253.3,170.7 253.6,171.5 253.8,171.5 254.1,171.5 254.3,170.7 254.6,170.7 254.8,170.7 255.1,171.5 255.3,169.1 255.6,170.7 255.8,171.5 256.1,171.5 256.4,170.7 256.6,171.5 256.9,170.7 257.1,171.5 257.4,170.7 257.6,171.5 257.9,170.7 258.1,169.9 258.4,170.7 258.6,170.7 258.9,170.7 259.1,170.7 259.4,171.5 259.6,170.7 259.9,171.5 260.1,169.9 260.4,170.7 260.6,171.5 260.9,169.1 261.1,170.7 261.4,171.5 261.6,170.7 261.9,171.5 262.1,170.7 262.4,170.7 262.6,171.5 262.9,171.5 263.1,171.5 263.4,171.5 263.6,171.5 263.9,171.5 264.1,171.5 264.4,171.5 264.6,171.5 264.9,169.1 265.1,170.7 265.4,171.5" fill="none" stroke="#111" stroke-width="0.9" stroke-dasharray="1.2 1.2"/>
<path d="M298.1,158.5 298.4,155.9 298.6,162.4 298.9,160.4 299.1,159.8 299.4,159.2 299.6,163.1 299.9,165.0 300.1,161.1 300.4,162.4 300.6,163.7 300.9,161.8 301.1,157.2 301.4,157.8 301.6,159.7 301.9,160.4 302.1,164.3 302.4,162.4 302.6,157.8 302.9,159.8 303.1,157.2 303.4,158.5 303.6,162.4 303.9,157.2 304.1,162.4 304.4,165.0 304.6,163.1 304.9,157.8 305.1,162.4 305.4,165.0 305.6,159.8 305.9,164.3 306.1,161.1 306.4,161.1 306.6,159.2 306.9,165.0 307.1,164.3 307.4,159.2 307.6,157.2 307.9,158.5 308.1,153.3 308.4,163.1 308.6,156.0 308.9,155.9 309.1,159.2 309.4,161.1 309.6,159.2 309.9,152.7 310.1,153.9 310.4,156.6 310.6,157.8 310.9,152.7 311.1,153.3 311.4,155.9 311.6,155.9 311.9,152.0 312.1,153.9 312.4,161.1 312.6,157.2 312.9,152.7 313.1,155.2 313.4,155.2 313.6,150.7 313.9,150.7 314.1,147.4 314.4,154.6 314.6,149.4 314.9,147.4 315.1,154.6 315.4,154.6 315.6,150.7 315.9,157.8 316.1,144.8 316.4,140.9 316.6,146.8 316.9,151.3 317.1,146.8 317.4,148.1 317.6,143.6 317.9,147.4 318.1,148.1 318.4,143.6 318.6,142.9 318.9,140.3 319.1,139.7 319.4,152.0 319.6,148.1 319.9,148.8 320.1,150.1 320.4,146.8 320.6,139.7 320.9,137.7 321.1,134.4 321.4,144.8 321.6,145.5 321.9,145.5 322.1,145.5 322.4,142.9 322.6,143.6 322.9,142.2 323.1,144.2 323.4,143.6 323.6,135.8 323.9,137.7 324.1,137.7 324.4,133.2 324.6,142.9 324.9,137.7 325.1,135.8 325.4,133.2 325.6,135.8 325.9,128.6 326.1,126.7 326.4,135.8 326.6,133.2 326.9,122.1 327.1,128.6 327.4,113.7 327.6,131.8 327.9,127.3 328.1,126.0 328.4,126.7 328.6,126.0 328.9,125.3 329.1,113.0 329.4,119.5 329.6,121.4 329.9,123.4 330.1,124.0 330.4,115.6 330.6,122.1 330.9,125.3 331.1,111.7 331.4,126.0 331.6,105.8 331.9,104.5 332.1,99.3 332.4,117.5 332.6,113.0 332.9,111.0 333.1,120.8 333.4,116.9 333.6,116.2 333.9,118.2 334.1,107.8 334.4,100.0 334.6,99.3 334.9,99.3 335.1,102.6 335.4,114.9 335.6,98.7 335.9,84.4 336.1,103.2 336.4,102.0 336.6,92.8 336.9,82.5 337.1,92.8 337.4,92.2 337.6,90.9 337.9,95.5 338.1,79.8 338.4,81.1 338.6,85.0 338.9,92.2 339.1,77.9 339.4,81.1 339.6,85.7 339.9,85.0 340.1,65.5 340.4,77.9 340.6,88.3 340.9,81.1 341.1,68.1 341.4,82.5 341.6,76.0 341.9,78.5 342.1,57.8 342.4,67.5 342.6,73.3 342.9,68.8 343.1,73.3 343.4,55.1 343.6,70.8 343.9,68.1 344.1,60.3 344.4,51.2 344.6,57.1 344.9,55.8 345.1,72.7 345.4,45.4 345.6,53.2 345.9,65.5 346.1,42.8 346.4,50.0 346.6,50.0 346.9,53.8 347.1,44.1 347.4,45.4 347.6,50.6 347.9,66.8 348.1,47.3 348.4,53.2 348.6,57.1 348.9,57.1 349.1,25.9 349.4,33.7 349.6,55.1 349.9,43.4 350.1,48.6 350.4,58.4 350.6,44.1 350.9,63.0 351.1,44.1 351.4,58.4 351.6,25.9 351.9,46.0 352.1,34.3 352.4,57.8 352.6,25.9 352.9,36.9 353.1,57.1 353.4,58.4 353.6,38.9 353.9,40.8 354.1,34.3 354.4,36.3 354.6,47.3 354.9,45.4 355.1,42.2 355.4,52.5 355.6,57.8 355.9,43.4 356.1,51.9 356.4,50.6 356.6,43.4 356.9,64.9 357.1,60.3 357.4,66.2 357.6,66.2 357.9,47.3 358.1,55.8 358.4,53.8 358.6,55.9 358.9,37.6 359.1,58.4 359.4,56.5 359.6,56.5 359.9,60.3 360.1,60.3 360.4,80.5 360.6,75.3 360.9,66.2 361.1,63.6 361.4,81.1 361.6,87.0 361.9,71.4 362.1,72.7 362.4,77.2 362.6,84.4 362.9,76.6 363.1,83.1 363.4,90.2 363.6,83.1 363.9,100.0 364.1,85.0 364.4,91.5 364.6,85.7 364.9,89.6 365.1,92.2 365.4,95.5 365.6,95.5 365.9,98.7 366.1,98.7 366.4,100.6 366.6,105.8 366.9,115.6 367.1,103.9 367.4,109.8 367.6,113.0 367.9,114.3 368.1,116.9 368.4,108.4 368.6,118.8 368.9,124.0 369.1,122.1 369.4,104.9 369.6,120.2 369.9,122.1 370.1,130.6 370.4,125.3 370.6,118.8 370.9,120.2 371.1,130.8 371.4,131.8 371.6,131.2 371.9,130.6 372.1,132.5 372.4,119.5 372.6,146.8 372.9,134.4 373.1,136.4 373.4,136.4 373.6,141.6 373.9,136.4 374.1,135.1 374.4,139.0 374.6,135.1 374.9,129.2 375.1,140.3 375.4,130.6 375.6,141.6 375.9,150.1 376.1,138.3 376.4,150.1 376.6,145.5 376.9,151.3 377.1,144.2 377.4,143.6 377.6,150.1 377.9,149.4 378.1,149.4 378.4,148.1 378.6,147.4 378.9,151.3 379.1,155.9 379.4,148.1 379.6,153.3 379.9,157.8 380.1,151.3 380.4,155.9 380.6,155.9 380.9,158.5 381.1,153.9 381.4,160.4 381.6,153.9 381.9,157.8 382.1,157.2 382.4,157.8 382.6,152.7 382.9,158.5 383.1,155.2 383.4,158.5 383.6,155.2 383.9,158.5 384.1,163.7 384.4,161.8 384.6,159.8 384.9,160.4 385.1,161.1 385.4,159.2 385.6,155.9 385.9,163.7 386.1,165.7 386.4,163.0 386.6,161.8 386.9,161.8 387.1,163.7 387.4,161.8 387.6,165.0 387.9,160.4 388.1,163.7 388.4,162.4 388.6,163.7 388.9,169.6 389.1,168.2 389.4,161.8 389.6,165.7 389.9,163.1 390.1,165.7 390.4,164.3 390.6,166.3 390.9,165.7 391.1,164.3 391.4,161.8 391.6,163.1 391.9,167.6 392.1,166.3 392.4,165.7 392.6,163.1 392.9,164.3 393.1,165.7 393.4,165.0 393.6,166.9 393.9,166.3 394.1,164.3 394.4,167.6 394.6,165.7 394.9,168.9 395.1,168.2 395.4,162.4 395.6,166.9 395.9,166.3 396.1,164.3 396.4,164.3 396.6,166.3 396.9,163.1 397.1,168.2 397.4,168.2 397.6,166.9 397.9,168.9 398.1,166.3 398.4,169.6 398.6,167.6 398.9,168.9 399.1,167.6 399.4,169.6 399.6,164.3 399.9,169.6 400.1,168.9 400.4,168.9 400.6,165.0 400.9,169.6 401.1,168.2 401.4,166.3 401.6,168.2 401.9,167.6 402.1,168.2 402.4,169.6 402.6,166.9 402.9,168.9 403.1,167.6 403.4,166.9 403.6,168.9 403.9,167.6 404.1,168.2 404.4,170.2 404.6,170.2 404.9,170.2 405.1,169.6 405.4,165.7 405.6,168.2 405.9,166.9 406.1,170.2 406.4,169.6 406.6,168.9 406.9,170.8 407.1,168.9 407.4,169.6 407.6,170.2 407.9,170.8 408.1,168.9 408.4,170.8 408.6,170.2 408.9,169.6 409.1,169.6 409.4,169.6 409.6,168.2 409.9,168.9 410.1,170.2 410.4,170.2 410.6,168.7 410.9,170.2 411.1,169.6 411.4,169.6 411.6,171.5 411.9,170.8 412.1,170.2 412.4,168.2 412.6,170.2 412.9,169.6 413.1,169.6 413.4,168.9 413.6,170.2 413.9,170.2 414.1,170.2 414.4,169.6 414.6,171.5 414.9,170.2 415.1,170.2 415.4,170.2 415.6,168.9 415.9,169.6 416.1,169.6 416.4,168.9 416.6,170.2 416.9,170.2 417.1,170.2 417.4,171.5 417.6,168.9 417.9,169.6 418.1,171.5 418.4,168.9 418.6,170.8 418.9,169.6 419.1,170.8 419.4,169.6 419.6,171.5 419.9,170.8 420.1,171.5 420.4,170.2 420.6,171.5 420.9,168.9 421.1,170.8 421.4,169.6 421.6,171.5 421.9,169.6 422.1,170.2 422.4,170.2 422.6,170.8 422.9,170.2 423.1,170.2 423.4,170.8 423.6,168.9 423.9,171.5 424.1,170.8 424.4,170.8 424.6,171.5 424.9,171.5 425.1,169.6 425.4,168.2 425.6,170.8 425.9,171.5 426.1,170.8 426.4,170.2 426.6,170.2 426.9,170.2 427.1,170.8 427.4,171.5 427.6,170.2 427.9,170.2 428.1,169.6 428.4,171.5 428.6,168.9 428.9,170.2 429.1,169.5 429.4,170.2 429.6,168.2 429.9,168.9 430.1,170.2 430.4,170.8 430.6,170.8 430.9,170.2 431.1,168.9 431.4,170.2 431.6,171.5 431.9,170.2 432.1,170.8 432.4,169.6 432.6,170.2 432.9,170.8 433.1,171.5 433.4,168.2 433.6,170.8 433.9,170.2 434.1,169.6 434.4,170.2 434.6,170.8 434.9,171.5 435.1,170.8 435.4,169.6 435.6,170.8 435.9,171.5 436.1,170.2 436.4,168.9 436.6,170.8 436.9,171.5 437.1,170.2 437.4,170.8 437.6,170.8 437.9,169.6 438.1,170.8 438.4,170.8 438.6,171.5 438.9,170.2 439.1,170.8 439.4,170.8 439.6,170.8 439.9,170.2 440.1,170.2 440.4,170.2 440.6,171.5 440.9,170.8 441.1,171.5 441.4,169.6 441.6,168.9 441.9,170.8 442.1,171.5 442.4,169.6 442.6,170.8 442.9,170.8 443.1,171.5 443.4,170.8 443.6,171.5 443.9,170.2 444.1,169.6 444.4,170.8 444.6,171.5 444.9,170.8 445.1,170.8 445.4,171.5 445.6,171.5 445.9,170.8 446.1,171.5 446.4,171.5 446.6,170.8 446.9,171.5 447.1,170.8 447.4,170.2 447.6,171.5 447.9,170.8 448.1,171.5 448.4,171.5 448.6,171.5 448.9,170.2 449.1,170.8 449.4,170.2 449.6,170.8 449.9,170.8 450.1,169.6 450.4,168.9 450.6,168.8 450.9,171.5 451.1,170.8 451.4,171.5 451.6,169.6 451.9,171.5 452.1,171.5 452.4,170.8 452.6,170.8 452.9,170.8 453.1,169.6 453.4,171.5 453.6,170.8 453.9,170.8 454.1,170.2 454.4,171.5 454.6,169.6 454.9,170.8 455.1,170.8 455.4,171.5 455.6,170.2 455.9,170.2 456.1,170.8 456.4,170.8 456.6,170.2 456.9,169.6 457.1,169.6 457.4,170.2 457.6,170.8 457.9,168.9 458.1,170.8 458.4,170.8 458.6,171.5 458.9,171.5 459.1,170.2 459.4,169.6 459.6,170.8 459.9,170.2 460.1,170.8 460.4,169.6 460.6,170.2 460.9,170.2 461.1,170.8 461.4,170.8 461.6,170.8 461.9,170.2 462.1,170.2 462.4,170.2 462.6,170.2 462.9,171.5 463.1,170.2 463.4,169.6 463.6,170.8 463.9,171.5 464.1,170.2 464.4,171.5 464.6,170.8 464.9,169.6 465.1,170.8 465.4,169.6 465.6,170.8 465.9,171.5 466.1,170.8 466.4,170.8 466.6,169.6 466.9,170.2 467.1,170.2 467.4,171.5 467.6,170.8 467.9,170.8 468.1,168.9 468.4,170.2 468.6,170.8 468.9,169.6 469.1,171.5 469.4,170.8 469.6,171.5 469.9,170.8 470.1,170.2 470.4,170.2 470.6,170.8 470.9,170.8 471.1,170.8 471.4,170.8 471.6,171.5 471.9,170.2 472.1,168.9 472.4,170.8 472.6,170.2 472.9,171.5 473.1,170.8 473.4,171.5 473.6,171.5 473.9,170.8 474.1,170.8 474.4,170.8 474.6,171.5 474.9,171.5 475.1,170.8 475.4,171.5 475.6,170.2 475.9,171.5 476.1,170.2 476.4,171.5 476.6,170.2 476.9,171.5 477.1,170.2 477.4,171.5 477.6,168.9 477.9,171.5 478.1,170.8 478.4,170.8 478.6,170.8 478.9,170.8 479.1,170.1 479.4,171.5 479.6,170.8 479.9,171.5 480.1,170.2 480.4,170.8 480.6,170.8 480.9,171.5 481.1,170.8 481.4,171.5 481.6,171.5 481.9,170.2 482.1,171.5 482.4,169.6 482.6,171.5 482.9,170.2 483.1,171.5 483.4,171.5 483.6,170.8 483.9,170.8 484.1,171.5 484.4,170.8 484.6,170.2 484.9,168.2 485.1,171.5 485.4,171.5 485.6,170.8 485.9,171.5 486.1,171.5 486.4,170.2 486.6,171.5 486.9,171.5 487.1,171.5 487.4,171.5 487.6,170.8 487.9,171.5 488.1,170.8 488.4,169.6 488.6,170.2 488.9,171.5 489.1,170.8 489.4,171.5 489.6,169.6 489.9,170.2 490.1,170.8 490.4,171.5 490.6,170.8 490.9,171.5 491.1,170.8 491.4,170.8 491.6,170.8 491.9,170.8 492.1,170.2 492.4,170.2 492.6,169.6 492.9,171.5 493.1,169.6 493.4,171.5 493.6,170.8 493.9,169.6 494.1,170.8 494.4,170.8 494.6,171.5 494.9,170.2 495.1,170.8 495.4,170.8 495.6,171.5 495.9,170.2 496.1,171.5 496.4,171.5 496.6,171.5 496.9,170.8 497.1,171.5 497.4,170.8 497.6,171.5 497.9,170.8 498.1,171.5 498.4,169.6 498.6,171.5 498.9,170.2 499.1,170.2 499.4,171.5 499.6,170.8 499.9,171.5 500.1,170.8 500.4,171.5 500.6,170.8 500.9,170.2 501.1,171.5 501.4,170.2 501.6,170.2 501.9,168.9 502.1,171.5 502.4,170.8 502.6,171.5 502.9,170.2 503.1,170.8 503.4,171.5 503.6,171.5 503.9,171.5 504.1,168.9 504.4,170.8 504.6,170.5 504.9,171.5 505.1,171.5 505.4,170.8 505.6,171.5 505.9,171.5 506.1,170.2 506.4,170.8 506.6,170.8 506.9,170.8 507.1,170.8 507.4,171.5 507.6,171.5 507.9,170.2 508.1,171.5 508.4,170.8 508.6,170.2 508.9,171.5 509.1,170.8 509.4,171.5 509.6,171.5 509.9,171.5 510.1,171.5 510.4,170.2 510.6,170.2 510.9,170.8 511.1,171.5 511.4,171.5 511.6,169.6 511.9,170.2 512.1,170.2 512.4,170.8 512.6,171.5" fill="none" stroke="#111" stroke-width="0.85"/>
<path d="M298.1,163.1 298.4,168.2 298.6,163.7 298.9,162.4 299.1,164.3 299.4,161.8 299.6,163.1 299.9,159.8 300.1,165.0 300.4,159.8 300.6,161.1 300.9,163.1 301.1,165.0 301.4,160.4 301.6,165.7 301.9,163.1 302.1,164.3 302.4,159.8 302.6,162.4 302.9,163.1 303.1,161.8 303.4,159.8 303.6,160.4 303.9,164.3 304.1,160.4 304.4,159.2 304.6,162.4 304.9,162.4 305.1,158.5 305.4,161.8 305.6,162.4 305.9,155.9 306.1,157.8 306.4,161.1 306.6,163.7 306.9,162.4 307.1,159.8 307.4,156.6 307.6,160.4 307.9,161.1 308.1,155.2 308.4,159.8 308.6,155.9 308.9,156.6 309.1,157.8 309.4,158.5 309.6,157.2 309.9,165.7 310.1,161.1 310.4,165.0 310.6,157.2 310.9,159.2 311.1,158.5 311.4,158.5 311.6,158.5 311.9,159.2 312.1,156.6 312.4,155.9 312.6,155.9 312.9,155.9 313.1,155.9 313.4,153.3 313.6,154.6 313.9,153.9 314.1,153.9 314.4,156.6 314.6,156.6 314.9,150.1 315.1,152.0 315.4,160.4 315.6,151.3 315.9,152.7 316.1,155.2 316.4,146.8 316.6,150.1 316.9,155.9 317.1,153.3 317.4,155.2 317.6,146.2 317.9,150.1 318.1,152.0 318.4,152.0 318.6,150.1 318.9,149.4 319.1,140.9 319.4,143.6 319.6,149.4 319.9,155.9 320.1,150.7 320.4,146.2 320.6,139.7 320.9,146.0 321.1,151.3 321.4,140.9 321.6,142.2 321.9,144.8 322.1,152.0 322.4,148.1 322.6,139.7 322.9,146.8 323.1,142.9 323.4,139.0 323.6,143.6 323.9,142.0 324.1,130.6 324.4,139.0 324.6,138.3 324.9,141.6 325.1,131.2 325.4,125.3 325.6,132.5 325.9,136.4 326.1,142.2 326.4,139.0 326.6,129.2 326.9,129.2 327.1,130.6 327.4,130.6 327.6,133.8 327.9,140.9 328.1,135.8 328.4,133.8 328.6,123.4 328.9,118.2 329.1,131.2 329.4,129.2 329.6,124.7 329.9,124.0 330.1,118.8 330.4,124.0 330.6,127.3 330.9,122.1 331.1,120.2 331.4,125.3 331.6,118.8 331.9,111.0 332.1,122.1 332.4,116.9 332.6,113.7 332.9,116.2 333.1,126.0 333.4,119.5 333.6,110.9 333.9,129.2 334.1,116.9 334.4,100.6 334.6,122.8 334.9,109.1 335.1,103.9 335.4,97.4 335.6,96.8 335.9,111.0 336.1,105.2 336.4,97.4 336.6,101.3 336.9,98.0 337.1,85.0 337.4,107.8 337.6,101.3 337.9,103.9 338.1,88.3 338.4,83.1 338.6,97.4 338.9,94.1 339.1,86.3 339.4,96.8 339.6,89.6 339.9,74.0 340.1,79.2 340.4,79.8 340.6,87.0 340.9,83.1 341.1,72.7 341.4,83.8 341.6,86.3 341.9,83.1 342.1,85.7 342.4,68.8 342.6,74.6 342.9,75.3 343.1,68.8 343.4,74.6 343.6,63.6 343.9,67.5 344.1,70.1 344.4,84.4 344.6,79.8 344.9,54.5 345.1,56.5 345.4,64.2 345.6,76.0 345.9,52.5 346.1,54.5 346.4,44.1 346.6,51.9 346.9,64.2 347.1,61.6 347.4,65.5 347.6,53.2 347.9,64.2 348.1,51.2 348.4,57.1 348.6,45.4 348.9,60.3 349.1,59.0 349.4,56.5 349.6,50.0 349.9,47.3 350.1,35.7 350.4,52.5 350.6,56.5 350.9,50.6 351.1,53.2 351.4,52.5 351.6,35.7 351.9,42.2 352.1,48.0 352.4,48.6 352.6,47.3 352.9,51.2 353.1,50.0 353.4,36.9 353.6,46.0 353.9,44.1 354.1,40.8 354.4,44.1 354.6,51.2 354.9,65.5 355.1,44.8 355.4,38.9 355.6,33.0 355.9,63.6 356.1,40.2 356.4,62.3 356.6,42.8 356.9,56.5 357.1,64.9 357.4,51.9 357.6,65.5 357.9,55.8 358.1,51.9 358.4,48.6 358.6,57.8 358.9,64.9 359.1,53.8 359.4,59.0 359.6,64.2 359.9,61.0 360.1,59.7 360.4,77.2 360.6,79.8 360.9,70.8 361.1,68.1 361.4,72.7 361.6,70.1 361.9,61.6 362.1,83.1 362.4,86.3 362.6,95.5 362.9,89.0 363.1,84.4 363.4,89.0 363.6,72.0 363.9,85.7 364.1,97.4 364.4,96.8 364.6,84.4 364.9,102.0 365.1,95.5 365.4,94.1 365.6,100.0 365.9,94.8 366.1,96.1 366.4,102.6 366.6,110.4 366.9,119.5 367.1,99.3 367.4,99.3 367.6,109.8 367.9,100.6 368.1,118.2 368.4,102.0 368.6,106.5 368.9,107.8 369.1,116.2 369.4,115.8 369.6,113.7 369.9,120.2 370.1,129.9 370.4,120.8 370.6,127.9 370.9,122.8 371.1,124.0 371.4,126.7 371.6,114.3 371.9,128.6 372.1,141.6 372.4,131.8 372.6,131.8 372.9,125.3 373.1,140.3 373.4,135.8 373.6,131.2 373.9,137.1 374.1,146.2 374.4,138.3 374.6,134.4 374.9,136.4 375.1,137.1 375.4,138.3 375.6,130.5 375.9,131.2 376.1,140.3 376.4,135.8 376.6,146.2 376.9,148.1 377.1,146.8 377.4,145.5 377.6,144.8 377.9,140.3 378.1,144.2 378.4,154.6 378.6,151.3 378.9,150.1 379.1,151.3 379.4,151.3 379.6,152.0 379.9,155.2 380.1,142.6 380.4,148.1 380.6,157.2 380.9,154.6 381.1,157.8 381.4,149.4 381.6,148.8 381.9,159.2 382.1,159.2 382.4,154.6 382.6,163.1 382.9,159.8 383.1,158.5 383.4,156.6 383.6,151.3 383.9,158.5 384.1,157.2 384.4,161.1 384.6,155.8 384.9,157.2 385.1,154.6 385.4,159.2 385.6,159.8 385.9,157.2 386.1,159.8 386.4,155.9 386.6,160.4 386.9,165.0 387.1,156.6 387.4,162.4 387.6,162.4 387.9,159.2 388.1,165.7 388.4,163.1 388.6,160.4 388.9,162.4 389.1,161.8 389.4,161.8 389.6,164.3 389.9,157.6 390.1,166.9 390.4,157.9 390.6,166.3 390.9,164.3 391.1,164.3 391.4,163.1 391.6,162.4 391.9,165.8 392.1,163.1 392.4,165.0 392.6,165.0 392.9,166.9 393.1,166.9 393.4,162.4 393.6,167.6 393.9,168.9 394.1,164.3 394.4,164.3 394.6,163.7 394.9,163.7 395.1,168.2 395.4,167.6 395.6,169.6 395.9,167.6 396.1,168.2 396.4,163.7 396.6,165.7 396.9,166.9 397.1,166.3 397.4,168.2 397.6,165.7 397.9,166.3 398.1,167.6 398.4,169.6 398.6,170.2 398.9,166.9 399.1,168.2 399.4,166.9 399.6,165.0 399.9,168.9 400.1,170.8 400.4,165.7 400.6,166.9 400.9,166.9 401.1,166.9 401.4,167.6 401.6,166.3 401.9,168.9 402.1,166.9 402.4,168.2 402.6,169.6 402.9,168.2 403.1,164.3 403.4,166.3 403.6,168.9 403.9,167.6 404.1,166.3 404.4,170.8 404.6,168.9 404.9,169.6 405.1,168.2 405.4,168.2 405.6,170.2 405.9,167.6 406.1,168.2 406.4,170.8 406.6,168.2 406.9,168.9 407.1,168.2 407.4,169.6 407.6,167.6 407.9,168.2 408.1,168.2 408.4,170.8 408.6,168.2 408.9,170.2 409.1,167.6 409.4,169.6 409.6,168.9 409.9,170.2 410.1,167.6 410.4,168.2 410.6,168.9 410.9,168.2 411.1,170.8 411.4,170.2 411.6,170.8 411.9,170.2 412.1,168.2 412.4,168.9 412.6,170.2 412.9,168.2 413.1,168.2 413.4,168.9 413.6,168.2 413.9,169.6 414.1,170.8 414.4,171.5 414.6,169.6 414.9,170.2 415.1,171.5 415.4,170.2 415.6,166.9 415.9,170.2 416.1,168.9 416.4,170.2 416.6,171.5 416.9,170.8 417.1,170.2 417.4,171.5 417.6,170.8 417.9,170.2 418.1,170.2 418.4,169.6 418.6,170.2 418.9,171.5 419.1,171.5 419.4,169.6 419.6,168.9 419.9,170.8 420.1,168.2 420.4,170.2 420.6,169.6 420.9,170.8 421.1,169.6 421.4,170.2 421.6,169.6 421.9,170.8 422.1,171.5 422.4,170.2 422.6,170.2 422.9,170.8 423.1,170.8 423.4,171.5 423.6,170.2 423.9,170.8 424.1,171.5 424.4,169.6 424.6,170.2 424.9,171.5 425.1,169.6 425.4,170.8 425.6,170.2 425.9,170.2 426.1,171.5 426.4,170.2 426.6,170.8 426.9,170.2 427.1,170.8 427.4,170.8 427.6,170.2 427.9,171.5 428.1,170.8 428.4,170.2 428.6,168.9 428.9,170.8 429.1,171.5 429.4,171.5 429.6,170.8 429.9,171.5 430.1,170.8 430.4,170.8 430.6,170.2 430.9,169.6 431.1,170.8 431.4,171.5 431.6,169.6 431.9,170.8 432.1,171.5 432.4,171.5 432.6,169.6 432.9,170.2 433.1,170.8 433.4,169.6 433.6,171.5 433.9,170.8 434.1,170.2 434.4,170.2 434.6,171.5 434.9,170.2 435.1,170.8 435.4,170.8 435.6,168.7 435.9,170.8 436.1,170.8 436.4,170.2 436.6,170.8 436.9,170.8 437.1,170.2 437.4,171.5 437.6,170.8 437.9,170.2 438.1,170.8 438.4,171.5 438.6,170.8 438.9,171.5 439.1,170.8 439.4,170.8 439.6,170.8 439.9,170.8 440.1,170.2 440.4,171.5 440.6,168.9 440.9,171.5 441.1,170.8 441.4,171.5 441.6,171.5 441.9,170.8 442.1,171.5 442.4,171.5 442.6,170.2 442.9,171.5 443.1,171.5 443.4,170.8 443.6,170.8 443.9,171.5 444.1,168.9 444.4,171.5 444.6,170.2 444.9,171.5 445.1,170.2 445.4,167.6 445.6,170.8 445.9,170.8 446.1,170.2 446.4,170.8 446.6,171.5 446.9,171.5 447.1,170.8 447.4,170.2 447.6,170.8 447.9,170.8 448.1,169.6 448.4,170.2 448.6,170.2 448.9,171.5 449.1,170.8 449.4,170.2 449.6,171.5 449.9,169.4 450.1,169.6 450.4,170.2 450.6,170.8 450.9,171.5 451.1,170.8 451.4,170.8 451.6,171.5 451.9,171.5 452.1,170.2 452.4,170.2 452.6,171.5 452.9,171.5 453.1,171.5 453.4,170.8 453.6,170.8 453.9,170.8 454.1,170.8 454.4,168.9 454.6,170.8 454.9,170.2 455.1,170.2 455.4,170.2 455.6,170.8 455.9,170.8 456.1,170.2 456.4,170.8 456.6,169.6 456.9,169.6 457.1,170.2 457.4,170.2 457.6,170.8 457.9,170.8 458.1,170.2 458.4,170.2 458.6,170.8 458.9,170.8 459.1,171.5 459.4,170.8 459.6,170.8 459.9,171.5 460.1,170.8 460.4,171.5 460.6,170.2 460.9,170.8 461.1,170.8 461.4,171.5 461.6,170.8 461.9,170.2 462.1,170.2 462.4,169.6 462.6,170.7 462.9,170.2 463.1,171.5 463.4,170.8 463.6,170.8 463.9,169.6 464.1,170.8 464.4,170.8 464.6,171.5 464.9,170.8 465.1,170.2 465.4,171.5 465.6,170.8 465.9,171.5 466.1,170.8 466.4,170.8 466.6,170.8 466.9,170.8 467.1,171.5 467.4,170.8 467.6,171.5 467.9,171.5 468.1,171.5 468.4,170.8 468.6,171.5 468.9,170.8 469.1,171.5 469.4,168.9 469.6,170.2 469.9,170.2 470.1,170.2 470.4,170.8 470.6,170.2 470.9,169.6 471.1,170.2 471.4,171.5 471.6,169.6 471.9,171.5 472.1,170.8 472.4,171.5 472.6,170.2 472.9,170.8 473.1,170.2 473.4,170.8 473.6,171.5 473.9,171.5 474.1,171.5 474.4,168.2 474.6,171.5 474.9,170.8 475.1,168.9 475.4,170.8 475.6,170.8 475.9,170.8 476.1,170.2 476.4,171.5 476.6,170.2 476.9,171.5 477.1,170.2 477.4,170.2 477.6,170.8 477.9,170.2 478.1,171.5 478.4,171.5 478.6,171.5 478.9,170.8 479.1,169.6 479.4,169.6 479.6,170.8 479.9,170.2 480.1,170.8 480.4,170.2 480.6,171.5 480.9,170.2 481.1,170.2 481.4,171.5 481.6,170.8 481.9,170.2 482.1,169.6 482.4,170.8 482.6,170.8 482.9,171.5 483.1,170.8 483.4,170.2 483.6,170.8 483.9,170.2 484.1,169.6 484.4,171.5 484.6,171.5 484.9,170.8 485.1,170.2 485.4,170.8 485.6,170.2 485.9,171.5 486.1,171.5 486.4,170.8 486.6,171.5 486.9,170.2 487.1,170.8 487.4,171.5 487.6,170.2 487.9,170.8 488.1,171.5 488.4,170.8 488.6,171.5 488.9,169.9 489.1,170.8 489.4,171.5 489.6,170.8 489.9,171.5 490.1,170.8 490.4,170.8 490.6,170.8 490.9,171.5 491.1,170.2 491.4,170.8 491.6,170.8 491.9,170.8 492.1,170.8 492.4,169.6 492.6,170.8 492.9,171.5 493.1,171.5 493.4,169.7 493.6,171.5 493.9,170.8 494.1,171.5 494.4,169.6 494.6,170.2 494.9,170.8 495.1,168.9 495.4,170.8 495.6,170.2 495.9,170.8 496.1,170.8 496.4,170.2 496.6,169.9 496.9,170.8 497.1,169.6 497.4,171.5 497.6,170.2 497.9,170.8 498.1,171.5 498.4,169.6 498.6,171.5 498.9,170.8 499.1,171.5 499.4,168.9 499.6,171.5 499.9,170.8 500.1,170.2 500.4,171.5 500.6,171.5 500.9,171.5 501.1,170.8 501.4,171.5 501.6,171.5 501.9,169.6 502.1,170.8 502.4,171.5 502.6,170.2 502.9,169.6 503.1,171.5 503.4,171.5 503.6,170.8 503.9,170.8 504.1,171.5 504.4,171.5 504.6,170.8 504.9,171.5 505.1,170.8 505.4,171.5 505.6,170.8 505.9,169.6 506.1,170.8 506.4,171.5 506.6,170.2 506.9,169.6 507.1,171.5 507.4,170.8 507.6,170.2 507.9,170.2 508.1,171.5 508.4,170.8 508.6,171.5 508.9,170.8 509.1,170.8 509.4,171.5 509.6,170.8 509.9,170.8 510.1,170.2 510.4,170.2 510.6,171.5 510.9,169.6 511.1,170.2 511.4,170.2 511.6,170.8 511.9,170.8 512.1,171.5 512.4,171.5 512.6,168.9" fill="none" stroke="#111" stroke-width="0.85" stroke-dasharray="3 1.2"/>
<path d="M298.1,167.5 298.4,169.1 298.6,169.9 298.9,168.3 299.1,168.3 299.4,167.5 299.6,167.5 299.9,167.5 300.1,167.5 300.4,169.1 300.6,166.7 300.9,166.7 301.1,165.1 301.4,168.3 301.6,165.1 301.9,167.5 302.1,167.5 302.4,168.3 302.6,168.3 302.9,167.5 303.1,166.7 303.4,167.5 303.6,167.5 303.9,166.7 304.1,165.1 304.4,169.9 304.6,168.3 304.9,164.3 305.1,165.9 305.4,168.3 305.6,166.7 305.9,167.5 306.1,169.1 306.4,165.1 306.6,167.5 306.9,162.7 307.1,169.9 307.4,164.3 307.6,169.9 307.9,165.1 308.1,166.7 308.4,166.7 308.6,165.1 308.9,168.3 309.1,167.5 309.4,165.9 309.6,165.9 309.9,169.9 310.1,166.7 310.4,166.7 310.6,163.5 310.9,165.9 311.1,165.9 311.4,164.3 311.6,164.3 311.9,165.1 312.1,166.7 312.4,168.3 312.6,169.1 312.9,166.7 313.1,164.3 313.4,165.9 313.6,164.3 313.9,161.9 314.1,166.7 314.4,168.3 314.6,159.5 314.9,161.1 315.1,164.3 315.4,166.7 315.6,162.7 315.9,160.3 316.1,164.3 316.4,165.9 316.6,161.1 316.9,165.1 317.1,162.7 317.4,162.7 317.6,167.5 317.9,160.3 318.1,159.5 318.4,164.3 318.6,164.3 318.9,161.9 319.1,160.3 319.4,159.5 319.6,156.3 319.9,157.1 320.1,153.9 320.4,161.9 320.6,160.3 320.9,161.1 321.1,159.5 321.4,161.1 321.6,161.1 321.9,160.3 322.1,161.1 322.4,157.9 322.6,162.7 322.9,153.9 323.1,158.7 323.4,157.1 323.6,159.5 323.9,159.5 324.1,157.9 324.4,158.7 324.6,161.1 324.9,156.3 325.1,155.5 325.4,151.5 325.6,156.3 325.9,152.3 326.1,151.5 326.4,149.1 326.6,164.3 326.9,157.1 327.1,160.3 327.4,158.7 327.6,147.5 327.9,155.5 328.1,152.3 328.4,156.3 328.6,154.7 328.9,147.5 329.1,153.9 329.4,149.1 329.6,153.1 329.9,147.5 330.1,156.3 330.4,142.7 330.6,152.3 330.9,154.7 331.1,150.7 331.4,149.9 331.6,149.9 331.9,142.7 332.1,145.9 332.4,152.3 332.6,147.5 332.9,142.7 333.1,144.3 333.4,142.7 333.6,134.7 333.9,141.1 334.1,137.1 334.4,139.5 334.6,141.1 334.9,142.7 335.1,137.9 335.4,136.3 335.6,132.3 335.9,141.1 336.1,140.3 336.4,139.5 336.6,142.7 336.9,139.5 337.1,139.5 337.4,137.9 337.6,130.7 337.9,128.3 338.1,142.7 338.4,137.1 338.6,142.7 338.9,127.5 339.1,131.5 339.4,128.3 339.6,129.1 339.9,130.7 340.1,126.7 340.4,130.7 340.6,117.3 340.9,122.2 341.1,136.3 341.4,125.1 341.6,133.9 341.9,107.5 342.1,116.4 342.4,127.5 342.6,126.7 342.9,129.1 343.1,113.9 343.4,115.5 343.6,110.7 343.9,109.1 344.1,114.7 344.4,117.9 344.6,115.5 344.9,113.1 345.1,95.5 345.4,105.1 345.6,115.5 345.9,110.7 346.1,103.5 346.4,108.3 346.6,97.9 346.9,101.9 347.1,97.1 347.4,102.7 347.6,97.1 347.9,80.3 348.1,94.7 348.4,83.5 348.6,97.1 348.9,89.1 349.1,80.3 349.4,85.1 349.6,88.3 349.9,84.3 350.1,85.1 350.4,89.1 350.6,82.7 350.9,82.7 351.1,76.3 351.4,82.7 351.6,73.9 351.9,73.9 352.1,71.5 352.4,68.3 352.6,77.1 352.9,84.3 353.1,54.7 353.4,72.3 353.6,69.9 353.9,51.5 354.1,47.5 354.4,44.3 354.6,61.1 354.9,65.9 355.1,52.3 355.4,56.3 355.6,61.1 355.9,60.3 356.1,61.1 356.4,61.1 356.6,64.3 356.9,51.5 357.1,57.1 357.4,49.1 357.6,61.9 357.9,44.3 358.1,53.9 358.4,58.7 358.6,61.1 358.9,79.5 359.1,61.1 359.4,53.9 359.6,81.9 359.9,77.9 360.1,84.3 360.4,84.3 360.6,61.9 360.9,76.3 361.1,57.9 361.4,74.7 361.6,77.9 361.9,81.9 362.1,87.5 362.4,87.5 362.6,76.3 362.9,75.5 363.1,67.5 363.4,91.5 363.6,91.5 363.9,95.5 364.1,86.7 364.4,93.1 364.6,96.3 364.9,90.6 365.1,85.9 365.4,105.9 365.6,97.9 365.9,91.5 366.1,100.3 366.4,105.1 366.6,98.7 366.9,111.5 367.1,101.9 367.4,97.9 367.6,105.1 367.9,118.7 368.1,96.3 368.4,105.1 368.6,125.1 368.9,116.3 369.1,107.5 369.4,96.1 369.6,101.9 369.9,117.1 370.1,116.3 370.4,124.3 370.6,101.2 370.9,117.1 371.1,126.7 371.4,117.1 371.6,121.9 371.9,121.1 372.1,119.5 372.4,130.7 372.6,125.1 372.9,127.5 373.1,125.9 373.4,126.7 373.6,131.5 373.9,122.7 374.1,125.9 374.4,137.1 374.6,128.3 374.9,133.9 375.1,134.7 375.4,129.9 375.6,133.1 375.9,137.9 376.1,143.5 376.4,125.1 376.6,128.3 376.9,137.1 377.1,130.7 377.4,134.7 377.6,141.1 377.9,134.7 378.1,139.5 378.4,135.5 378.6,144.3 378.9,138.7 379.1,137.1 379.4,141.9 379.6,144.3 379.9,138.7 380.1,133.1 380.4,146.7 380.6,147.5 380.9,141.9 381.1,146.7 381.4,144.3 381.6,149.9 381.9,151.5 382.1,150.7 382.4,148.3 382.6,149.9 382.9,149.1 383.1,147.5 383.4,145.1 383.6,150.7 383.9,146.7 384.1,150.7 384.4,148.3 384.6,149.9 384.9,146.7 385.1,142.7 385.4,147.5 385.6,145.1 385.9,153.1 386.1,150.7 386.4,149.9 386.6,148.3 386.9,153.1 387.1,154.7 387.4,151.5 387.6,145.1 387.9,152.3 388.1,153.1 388.4,151.5 388.6,157.1 388.9,155.5 389.1,153.9 389.4,156.3 389.6,149.9 389.9,156.3 390.1,153.1 390.4,156.3 390.6,154.7 390.9,148.3 391.1,151.5 391.4,154.7 391.6,155.5 391.9,158.7 392.1,161.1 392.4,160.3 392.6,159.5 392.9,155.5 393.1,155.5 393.4,155.5 393.6,159.5 393.9,157.1 394.1,155.5 394.4,151.5 394.6,155.5 394.9,153.1 395.1,154.7 395.4,151.5 395.6,159.5 395.9,159.5 396.1,149.9 396.4,158.7 396.6,161.9 396.9,158.7 397.1,159.5 397.4,157.1 397.6,157.9 397.9,155.5 398.1,155.5 398.4,149.1 398.6,153.9 398.9,158.7 399.1,161.1 399.4,154.7 399.6,151.5 399.9,154.7 400.1,161.1 400.4,153.1 400.6,157.1 400.9,160.3 401.1,153.9 401.4,152.4 401.6,157.9 401.9,155.5 402.1,149.9 402.4,147.5 402.6,152.3 402.9,158.7 403.1,149.9 403.4,153.1 403.6,155.5 403.9,156.3 404.1,144.3 404.4,150.7 404.6,152.3 404.9,149.9 405.1,151.5 405.4,156.3 405.6,152.3 405.9,151.5 406.1,149.1 406.4,149.9 406.6,145.9 406.9,150.7 407.1,149.9 407.4,149.9 407.6,145.9 407.9,145.1 408.1,144.3 408.4,139.4 408.6,150.7 408.9,145.1 409.1,149.9 409.4,155.5 409.6,147.6 409.9,154.7 410.1,148.3 410.4,147.5 410.6,149.1 410.9,139.8 411.1,154.7 411.4,146.7 411.6,152.3 411.9,145.9 412.1,142.7 412.4,155.5 412.6,137.9 412.9,141.9 413.1,145.1 413.4,147.5 413.6,146.7 413.9,151.5 414.1,146.7 414.4,152.3 414.6,147.5 414.9,147.5 415.1,145.9 415.4,154.7 415.6,141.1 415.9,143.5 416.1,139.5 416.4,145.1 416.6,153.1 416.9,143.5 417.1,141.7 417.4,141.1 417.6,143.5 417.9,136.3 418.1,137.9 418.4,141.1 418.6,134.7 418.9,146.7 419.1,135.5 419.4,140.3 419.6,147.5 419.9,142.7 420.1,136.3 420.4,146.7 420.6,147.5 420.9,137.1 421.1,148.3 421.4,137.1 421.6,137.9 421.9,139.5 422.1,133.9 422.4,139.5 422.6,140.3 422.9,139.5 423.1,137.1 423.4,137.9 423.6,146.7 423.9,145.9 424.1,131.5 424.4,141.1 424.6,134.7 424.9,141.1 425.1,134.7 425.4,131.5 425.6,138.7 425.9,140.3 426.1,137.1 426.4,142.7 426.6,135.5 426.9,137.9 427.1,133.9 427.4,139.5 427.6,145.1 427.9,132.3 428.1,145.9 428.4,135.5 428.6,137.1 428.9,129.9 429.1,132.3 429.4,141.1 429.6,135.5 429.9,135.5 430.1,134.7 430.4,143.5 430.6,136.3 430.9,124.3 431.1,143.5 431.4,133.9 431.6,142.7 431.9,133.1 432.1,131.5 432.4,140.3 432.6,136.3 432.9,138.7 433.1,140.3 433.4,133.1 433.6,141.9 433.9,142.7 434.1,137.9 434.4,141.1 434.6,132.3 434.9,133.1 435.1,131.5 435.4,138.7 435.6,139.5 435.9,145.9 436.1,141.1 436.4,143.5 436.6,137.1 436.9,125.7 437.1,141.1 437.4,134.7 437.6,145.1 437.9,134.7 438.1,141.9 438.4,145.9 438.6,145.9 438.9,141.9 439.1,140.3 439.4,137.9 439.6,145.1 439.9,141.9 440.1,140.3 440.4,144.3 440.6,137.1 440.9,148.3 441.1,142.7 441.4,142.7 441.6,147.5 441.9,140.3 442.1,144.3 442.4,145.1 442.6,137.1 442.9,144.3 443.1,138.7 443.4,144.3 443.6,138.7 443.9,151.5 444.1,145.9 444.4,131.6 444.6,145.9 444.9,137.9 445.1,149.1 445.4,149.9 445.6,143.5 445.9,152.3 446.1,140.3 446.4,149.9 446.6,138.7 446.9,153.9 447.1,153.9 447.4,147.5 447.6,153.1 447.9,152.3 448.1,146.7 448.4,152.8 448.6,145.9 448.9,149.9 449.1,157.1 449.4,146.7 449.6,155.5 449.9,145.9 450.1,160.3 450.4,150.2 450.6,148.3 450.9,145.1 451.1,155.5 451.4,151.5 451.6,158.7 451.9,146.7 452.1,163.5 452.4,150.7 452.6,152.3 452.9,155.5 453.1,157.9 453.4,148.3 453.6,155.5 453.9,155.5 454.1,161.1 454.4,155.5 454.6,160.3 454.9,157.9 455.1,157.1 455.4,156.3 455.6,159.5 455.9,160.3 456.1,161.1 456.4,158.7 456.6,160.3 456.9,161.1 457.1,159.5 457.4,161.9 457.6,158.7 457.9,161.9 458.1,163.5 458.4,159.5 458.6,160.3 458.9,159.5 459.1,164.3 459.4,162.7 459.6,162.7 459.9,157.9 460.1,160.3 460.4,167.5 460.6,159.5 460.9,159.5 461.1,166.7 461.4,163.5 461.6,167.5 461.9,163.5 462.1,167.5 462.4,163.5 462.6,161.9 462.9,163.5 463.1,164.3 463.4,165.1 463.6,162.7 463.9,164.3 464.1,163.5 464.4,165.1 464.6,167.5 464.9,165.1 465.1,169.9 465.4,167.5 465.6,165.9 465.9,165.1 466.1,168.3 466.4,169.9 466.6,167.5 466.9,166.7 467.1,167.5 467.4,165.9 467.6,165.1 467.9,166.7 468.1,166.7 468.4,165.9 468.6,167.5 468.9,165.9 469.1,166.7 469.4,165.9 469.6,166.7 469.9,165.1 470.1,164.3 470.4,165.9 470.6,169.1 470.9,169.9 471.1,168.3 471.4,167.5 471.6,168.3 471.9,167.5 472.1,165.1 472.4,166.7 472.6,167.5 472.9,168.3 473.1,167.5 473.4,169.1 473.6,165.8 473.9,169.1 474.1,168.3 474.4,165.9 474.6,167.5 474.9,168.3 475.1,169.1 475.4,170.7 475.6,166.7 475.9,169.9 476.1,170.7 476.4,169.1 476.6,166.7 476.9,164.3 477.1,169.1 477.4,167.5 477.6,167.5 477.9,169.1 478.1,168.3 478.4,168.3 478.6,167.5 478.9,167.5 479.1,169.9 479.4,166.7 479.6,168.3 479.9,169.9 480.1,166.7 480.4,170.7 480.6,169.1 480.9,168.3 481.1,168.3 481.4,170.7 481.6,168.3 481.9,166.7 482.1,167.5 482.4,169.1 482.6,166.2 482.9,165.1 483.1,168.3 483.4,168.3 483.6,170.7 483.9,165.8 484.1,169.9 484.4,169.1 484.6,170.7 484.9,169.9 485.1,170.7 485.4,170.7 485.6,168.3 485.9,169.9 486.1,169.9 486.4,169.9 486.6,169.9 486.9,168.3 487.1,170.7 487.4,169.1 487.6,169.1 487.9,169.1 488.1,168.3 488.4,169.1 488.6,170.7 488.9,169.9 489.1,167.5 489.4,170.7 489.6,170.7 489.9,170.7 490.1,169.9 490.4,170.7 490.6,170.7 490.9,171.5 491.1,171.5 491.4,169.1 491.6,169.1 491.9,170.7 492.1,169.9 492.4,169.9 492.6,169.1 492.9,169.9 493.1,169.9 493.4,169.9 493.6,169.1 493.9,168.3 494.1,170.7 494.4,169.9 494.6,170.7 494.9,171.5 495.1,169.9 495.4,170.7 495.6,166.7 495.9,171.5 496.1,169.9 496.4,169.9 496.6,169.1 496.9,169.9 497.1,169.9 497.4,169.1 497.6,169.1 497.9,170.7 498.1,170.7 498.4,170.7 498.6,171.5 498.9,169.1 499.1,169.9 499.4,170.7 499.6,169.1 499.9,171.5 500.1,169.9 500.4,170.7 500.6,171.5 500.9,170.7 501.1,169.1 501.4,170.7 501.6,170.7 501.9,169.9 502.1,171.5 502.4,169.9 502.6,168.3 502.9,170.7 503.1,170.7 503.4,171.5 503.6,169.1 503.9,171.5 504.1,171.5 504.4,170.7 504.6,170.7 504.9,170.7 505.1,168.3 505.4,169.9 505.6,171.5 505.9,169.9 506.1,169.9 506.4,170.7 506.6,169.9 506.9,169.9 507.1,169.9 507.4,169.1 507.6,171.5 507.9,170.7 508.1,170.7 508.4,169.9 508.6,171.5 508.9,170.7 509.1,169.9 509.4,170.7 509.6,170.7 509.9,170.7 510.1,169.9 510.4,169.9 510.6,171.5 510.9,170.7 511.1,169.1 511.4,168.2 511.6,170.7 511.9,169.9 512.1,169.9 512.4,169.9 512.6,169.9" fill="none" stroke="#111" stroke-width="0.85" stroke-dasharray="3 1.2"/>
<path d="M298.1,166.7 298.4,169.9 298.6,169.9 298.9,169.1 299.1,167.5 299.4,170.7 299.6,169.1 299.9,169.1 300.1,169.9 300.4,169.1 300.6,167.5 300.9,168.3 301.1,167.5 301.4,169.1 301.6,169.9 301.9,169.1 302.1,167.5 302.4,169.9 302.6,167.5 302.9,167.5 303.1,166.7 303.4,169.1 303.6,168.3 303.9,167.5 304.1,165.9 304.4,168.3 304.6,170.7 304.9,170.7 305.1,165.9 305.4,170.7 305.6,164.3 305.9,166.7 306.1,167.5 306.4,167.5 306.6,169.1 306.9,165.9 307.1,169.1 307.4,162.7 307.6,169.1 307.9,169.1 308.1,169.1 308.4,165.9 308.6,164.3 308.9,165.9 309.1,169.1 309.4,168.3 309.6,165.1 309.9,167.5 310.1,165.1 310.4,168.3 310.6,166.7 310.9,166.7 311.1,167.5 311.4,162.7 311.6,167.5 311.9,167.5 312.1,166.7 312.4,162.7 312.6,165.1 312.9,169.9 313.1,166.7 313.4,167.5 313.6,166.7 313.9,165.1 314.1,163.5 314.4,163.5 314.6,166.7 314.9,163.5 315.1,169.9 315.4,165.1 315.6,165.1 315.9,166.7 316.1,167.5 316.4,166.7 316.6,165.1 316.9,164.3 317.1,165.1 317.4,165.9 317.6,161.1 317.9,161.9 318.1,168.3 318.4,165.1 318.6,167.5 318.9,165.1 319.1,160.3 319.4,165.9 319.6,161.9 319.9,161.9 320.1,160.3 320.4,165.9 320.6,161.9 320.9,163.5 321.1,161.1 321.4,162.7 321.6,165.1 321.9,161.9 322.1,162.7 322.4,161.1 322.6,166.7 322.9,164.3 323.1,161.9 323.4,160.3 323.6,157.1 323.9,158.7 324.1,161.9 324.4,161.9 324.6,158.7 324.9,161.9 325.1,159.5 325.4,158.7 325.6,157.1 325.9,159.5 326.1,153.9 326.4,162.7 326.6,162.7 326.9,161.6 327.1,153.9 327.4,153.1 327.6,160.3 327.9,155.5 328.1,154.7 328.4,146.0 328.6,157.1 328.9,151.5 329.1,149.9 329.4,151.5 329.6,161.9 329.9,158.7 330.1,153.1 330.4,157.1 330.6,155.5 330.9,155.5 331.1,145.9 331.4,153.1 331.6,157.9 331.9,153.1 332.1,158.7 332.4,155.2 332.6,152.3 332.9,144.3 333.1,148.3 333.4,144.3 333.6,146.7 333.9,141.9 334.1,145.9 334.4,156.3 334.6,149.9 334.9,141.9 335.1,138.7 335.4,140.3 335.6,140.3 335.9,138.7 336.1,141.9 336.4,145.9 336.6,147.5 336.9,149.1 337.1,132.3 337.4,135.5 337.6,141.1 337.9,140.3 338.1,139.5 338.4,133.1 338.6,133.1 338.9,131.5 339.1,129.9 339.4,129.1 339.6,133.9 339.9,131.5 340.1,137.9 340.4,133.1 340.6,117.5 340.9,139.5 341.1,134.7 341.4,129.9 341.6,120.3 341.9,127.5 342.1,127.5 342.4,121.1 342.6,129.1 342.9,137.1 343.1,120.3 343.4,120.3 343.6,122.7 343.9,117.9 344.1,125.1 344.4,139.5 344.6,115.5 344.9,127.5 345.1,124.3 345.4,113.9 345.6,113.1 345.9,105.1 346.1,113.9 346.4,121.1 346.6,109.9 346.9,106.7 347.1,99.5 347.4,107.5 347.6,96.3 347.9,98.1 348.1,101.9 348.4,100.3 348.6,110.7 348.9,100.3 349.1,97.1 349.4,89.9 349.6,84.3 349.9,98.7 350.1,105.1 350.4,102.7 350.6,102.7 350.9,85.9 351.1,80.3 351.4,73.9 351.6,86.7 351.9,85.9 352.1,74.7 352.4,85.9 352.6,82.7 352.9,85.9 353.1,90.7 353.4,88.3 353.6,72.3 353.9,79.5 354.1,76.3 354.4,81.9 354.6,62.7 354.9,78.7 355.1,65.9 355.4,85.9 355.6,68.3 355.9,69.9 356.1,71.5 356.4,65.1 356.6,55.5 356.9,58.7 357.1,56.3 357.4,77.9 357.6,75.5 357.9,47.5 358.1,54.7 358.4,50.7 358.6,73.9 358.9,69.9 359.1,68.3 359.4,64.3 359.6,67.5 359.9,64.3 360.1,67.5 360.4,83.5 360.6,72.3 360.9,68.3 361.1,59.5 361.4,65.9 361.6,96.3 361.9,78.7 362.1,67.5 362.4,74.7 362.6,79.5 362.9,57.9 363.1,68.3 363.4,81.1 363.6,81.1 363.9,93.1 364.1,94.7 364.4,66.7 364.6,91.5 364.9,81.1 365.1,93.1 365.4,95.5 365.6,81.9 365.9,82.7 366.1,107.5 366.4,102.7 366.6,88.3 366.9,93.1 367.1,99.5 367.4,100.3 367.6,97.1 367.9,99.5 368.1,104.3 368.4,104.3 368.6,109.1 368.9,107.5 369.1,112.3 369.4,106.7 369.6,103.5 369.9,107.5 370.1,98.7 370.4,111.5 370.6,122.7 370.9,123.5 371.1,113.1 371.4,125.9 371.6,109.1 371.9,119.5 372.1,122.7 372.4,121.1 372.6,115.5 372.9,118.7 373.1,126.7 373.4,121.1 373.6,136.3 373.9,128.3 374.1,122.7 374.4,116.3 374.6,125.9 374.9,122.7 375.1,129.9 375.4,129.1 375.6,129.1 375.9,133.1 376.1,129.1 376.4,124.5 376.6,134.7 376.9,131.5 377.1,136.3 377.4,133.1 377.6,133.9 377.9,137.1 378.1,145.9 378.4,139.5 378.6,138.7 378.9,140.3 379.1,138.7 379.4,137.1 379.6,140.3 379.9,135.5 380.1,141.9 380.4,142.7 380.6,145.9 380.9,128.9 381.1,145.9 381.4,151.5 381.6,141.1 381.9,146.7 382.1,144.3 382.4,148.3 382.6,142.7 382.9,148.3 383.1,154.7 383.4,152.3 383.6,152.3 383.9,143.5 384.1,143.5 384.4,145.1 384.6,153.1 384.9,147.5 385.1,150.7 385.4,146.7 385.6,157.9 385.9,154.7 386.1,152.3 386.4,154.7 386.6,151.5 386.9,157.1 387.1,147.5 387.4,152.3 387.6,153.1 387.9,154.7 388.1,153.9 388.4,156.3 388.6,155.5 388.9,151.5 389.1,156.3 389.4,155.5 389.6,147.5 389.9,149.9 390.1,153.9 390.4,158.7 390.6,155.5 390.9,152.3 391.1,150.7 391.4,145.8 391.6,146.7 391.9,155.5 392.1,163.5 392.4,159.5 392.6,161.1 392.9,158.7 393.1,161.1 393.4,159.5 393.6,150.7 393.9,158.7 394.1,156.3 394.4,157.9 394.6,159.5 394.9,157.1 395.1,160.3 395.4,151.0 395.6,148.3 395.9,157.9 396.1,154.7 396.4,153.9 396.6,159.5 396.9,151.7 397.1,156.3 397.4,158.7 397.6,158.7 397.9,159.5 398.1,156.3 398.4,160.3 398.6,156.3 398.9,157.9 399.1,157.1 399.4,157.1 399.6,154.7 399.9,158.7 400.1,149.1 400.4,158.7 400.6,156.3 400.9,163.5 401.1,157.9 401.4,157.1 401.6,157.1 401.9,154.7 402.1,153.1 402.4,154.7 402.6,157.1 402.9,156.3 403.1,153.1 403.4,156.3 403.6,151.5 403.9,153.9 404.1,153.1 404.4,159.5 404.6,159.5 404.9,148.3 405.1,161.9 405.4,157.1 405.6,157.1 405.9,154.7 406.1,148.3 406.4,152.3 406.6,153.9 406.9,154.7 407.1,149.1 407.4,154.7 407.6,149.9 407.9,150.7 408.1,156.3 408.4,146.7 408.6,156.3 408.9,151.5 409.1,150.7 409.4,149.1 409.6,153.1 409.9,149.9 410.1,154.7 410.4,140.3 410.6,151.5 410.9,151.5 411.1,150.7 411.4,157.9 411.6,145.1 411.9,150.7 412.1,145.1 412.4,153.9 412.6,153.1 412.9,150.7 413.1,140.3 413.4,156.3 413.6,154.7 413.9,152.3 414.1,150.7 414.4,140.3 414.6,155.5 414.9,148.3 415.1,153.1 415.4,152.3 415.6,151.5 415.9,147.5 416.1,152.3 416.4,141.1 416.6,145.9 416.9,147.5 417.1,149.9 417.4,146.7 417.6,141.9 417.9,150.7 418.1,146.7 418.4,138.7 418.6,149.1 418.9,151.5 419.1,153.9 419.4,146.7 419.6,139.5 419.9,143.5 420.1,142.9 420.4,130.6 420.6,150.7 420.9,140.3 421.1,138.7 421.4,138.7 421.6,143.5 421.9,129.1 422.1,136.3 422.4,141.1 422.6,138.7 422.9,146.7 423.1,143.5 423.4,140.3 423.6,131.5 423.9,144.3 424.1,137.9 424.4,139.5 424.6,145.1 424.9,146.7 425.1,140.3 425.4,141.1 425.6,145.1 425.9,143.5 426.1,141.1 426.4,129.9 426.6,137.1 426.9,144.3 427.1,141.9 427.4,145.1 427.6,134.7 427.9,141.9 428.1,141.9 428.4,145.1 428.6,137.1 428.9,133.9 429.1,137.9 429.4,146.7 429.6,135.5 429.9,139.5 430.1,131.5 430.4,136.3 430.6,132.3 430.9,137.9 431.1,138.7 431.4,143.5 431.6,137.9 431.9,140.3 432.1,129.1 432.4,139.5 432.6,137.1 432.9,145.1 433.1,131.5 433.4,132.3 433.6,139.5 433.9,139.5 434.1,130.7 434.4,141.9 434.6,132.3 434.9,141.1 435.1,141.1 435.4,141.1 435.6,148.3 435.9,135.5 436.1,139.5 436.4,139.5 436.6,135.5 436.9,137.9 437.1,136.3 437.4,140.3 437.6,143.5 437.9,139.5 438.1,138.7 438.4,132.3 438.6,129.9 438.9,134.7 439.1,146.7 439.4,137.9 439.6,140.3 439.9,138.7 440.1,143.5 440.4,137.9 440.6,141.9 440.9,137.9 441.1,142.7 441.4,140.3 441.6,136.3 441.9,137.1 442.1,138.7 442.4,139.5 442.6,134.7 442.9,143.5 443.1,145.7 443.4,141.9 443.6,137.9 443.9,143.5 444.1,143.5 444.4,150.7 444.6,148.3 444.9,151.5 445.1,145.9 445.4,142.7 445.6,148.3 445.9,143.5 446.1,148.3 446.4,150.7 446.6,145.1 446.9,145.9 447.1,147.5 447.4,149.1 447.6,143.5 447.9,153.1 448.1,146.7 448.4,141.9 448.6,146.8 448.9,147.5 449.1,151.5 449.4,141.9 449.6,151.5 449.9,149.9 450.1,149.9 450.4,143.5 450.6,154.7 450.9,146.7 451.1,153.1 451.4,153.9 451.6,144.3 451.9,152.3 452.1,152.3 452.4,154.7 452.6,147.5 452.9,147.5 453.1,161.9 453.4,155.5 453.6,153.9 453.9,154.7 454.1,153.9 454.4,153.1 454.6,152.3 454.9,157.9 455.1,153.1 455.4,157.1 455.6,152.3 455.9,151.5 456.1,159.5 456.4,153.9 456.6,154.7 456.9,161.9 457.1,159.5 457.4,161.1 457.6,160.3 457.9,160.3 458.1,164.3 458.4,155.5 458.6,160.3 458.9,158.7 459.1,160.3 459.4,157.9 459.6,165.1 459.9,161.1 460.1,159.5 460.4,159.5 460.6,165.9 460.9,161.9 461.1,157.9 461.4,164.3 461.6,154.8 461.9,157.9 462.1,164.3 462.4,160.3 462.6,164.3 462.9,162.7 463.1,160.3 463.4,165.1 463.6,165.1 463.9,165.1 464.1,165.9 464.4,165.1 464.6,158.7 464.9,166.7 465.1,164.3 465.4,165.1 465.6,167.5 465.9,167.5 466.1,169.9 466.4,165.1 466.6,165.1 466.9,166.7 467.1,165.1 467.4,164.3 467.6,164.3 467.9,164.3 468.1,165.1 468.4,165.9 468.6,169.1 468.9,169.9 469.1,161.9 469.4,167.5 469.6,165.1 469.9,164.3 470.1,166.7 470.4,166.7 470.6,168.3 470.9,166.7 471.1,167.5 471.4,168.3 471.6,162.7 471.9,167.5 472.1,165.9 472.4,169.9 472.6,168.3 472.9,167.5 473.1,163.5 473.4,170.7 473.6,168.3 473.9,169.9 474.1,163.5 474.4,168.3 474.6,169.1 474.9,168.3 475.1,168.3 475.4,167.5 475.6,166.7 475.9,169.9 476.1,169.1 476.4,169.9 476.6,168.3 476.9,168.3 477.1,170.7 477.4,167.5 477.6,169.1 477.9,169.1 478.1,167.5 478.4,169.9 478.6,169.9 478.9,166.7 479.1,169.9 479.4,170.7 479.6,169.1 479.9,169.1 480.1,166.7 480.4,169.1 480.6,166.7 480.9,166.7 481.1,167.5 481.4,169.9 481.6,168.3 481.9,169.1 482.1,169.9 482.4,168.3 482.6,168.3 482.9,169.1 483.1,167.5 483.4,167.5 483.6,169.1 483.9,167.5 484.1,168.3 484.4,169.9 484.6,168.3 484.9,169.9 485.1,169.1 485.4,168.3 485.6,169.9 485.9,167.5 486.1,167.5 486.4,169.9 486.6,169.1 486.9,167.5 487.1,169.1 487.4,171.5 487.6,167.5 487.9,169.9 488.1,169.1 488.4,168.3 488.6,170.7 488.9,169.9 489.1,170.7 489.4,171.5 489.6,169.9 489.9,169.1 490.1,169.9 490.4,167.5 490.6,169.9 490.9,171.5 491.1,171.5 491.4,169.9 491.6,171.5 491.9,169.1 492.1,170.7 492.4,169.1 492.6,171.5 492.9,171.5 493.1,169.1 493.4,170.7 493.6,171.5 493.9,169.9 494.1,169.9 494.4,170.7 494.6,171.5 494.9,170.7 495.1,168.3 495.4,170.7 495.6,166.0 495.9,171.5 496.1,169.9 496.4,166.7 496.6,169.9 496.9,170.7 497.1,169.1 497.4,169.9 497.6,168.3 497.9,171.5 498.1,169.1 498.4,169.9 498.6,170.7 498.9,170.7 499.1,171.5 499.4,169.9 499.6,171.5 499.9,169.1 500.1,169.9 500.4,169.9 500.6,167.5 500.9,171.5 501.1,170.7 501.4,170.7 501.6,169.1 501.9,169.1 502.1,171.5 502.4,168.3 502.6,169.9 502.9,169.9 503.1,170.7 503.4,171.5 503.6,169.9 503.9,170.7 504.1,169.1 504.4,170.7 504.6,169.1 504.9,168.3 505.1,168.3 505.4,171.5 505.6,169.9 505.9,171.5 506.1,170.7 506.4,170.7 506.6,168.3 506.9,171.5 507.1,171.5 507.4,170.7 507.6,169.9 507.9,169.1 508.1,169.9 508.4,169.1 508.6,170.7 508.9,169.9 509.1,169.1 509.4,170.7 509.6,169.1 509.9,170.7 510.1,171.5 510.4,170.7 510.6,169.9 510.9,171.5 511.1,171.5 511.4,171.5 511.6,170.7 511.9,167.5 512.1,170.7 512.4,169.1 512.6,170.7" fill="none" stroke="#111" stroke-width="0.9" stroke-dasharray="1.2 1.2"/>
</g>
<text x="113.00" y="227.60" font-size="16.3" font-weight="bold" text-anchor="start" >B</text>
<line x1="178.30" y1="224.90" x2="178.30" y2="385.40" stroke="#111" stroke-width="1.1"/>
<line x1="174.00" y1="385.40" x2="178.30" y2="385.40" stroke="#111" stroke-width="1.1"/>
<text x="159.40" y="389.10" font-size="10.2" font-weight="normal" text-anchor="middle" >0</text>
<line x1="174.00" y1="353.30" x2="178.30" y2="353.30" stroke="#111" stroke-width="1.1"/>
<text x="159.40" y="357.00" font-size="10.2" font-weight="normal" text-anchor="middle" >5</text>
<line x1="174.00" y1="321.20" x2="178.30" y2="321.20" stroke="#111" stroke-width="1.1"/>
<text x="159.40" y="324.90" font-size="10.2" font-weight="normal" text-anchor="middle" >10</text>
<line x1="174.00" y1="289.10" x2="178.30" y2="289.10" stroke="#111" stroke-width="1.1"/>
<text x="159.40" y="292.80" font-size="10.2" font-weight="normal" text-anchor="middle" >15</text>
<line x1="174.00" y1="257.00" x2="178.30" y2="257.00" stroke="#111" stroke-width="1.1"/>
<text x="159.40" y="260.70" font-size="10.2" font-weight="normal" text-anchor="middle" >20</text>
<line x1="174.00" y1="224.90" x2="178.30" y2="224.90" stroke="#111" stroke-width="1.1"/>
<text x="159.40" y="228.60" font-size="10.2" font-weight="normal" text-anchor="middle" >25</text>
<line x1="174.00" y1="385.40" x2="392.00" y2="385.40" stroke="#111" stroke-width="1.1"/>
<text transform="translate(142.5,306.5) rotate(-90)" font-size="10.6" font-weight="bold" text-anchor="middle">p24 (ng/mL)</text>
<rect x="196.3" y="318.6" width="70.6" height="66.8" fill="#fff" stroke="#111" stroke-width="1.1"/>
<line x1="231.70" y1="306.90" x2="231.70" y2="318.60" stroke="#111" stroke-width="1.1"/>
<line x1="213.80" y1="306.90" x2="249.40" y2="306.90" stroke="#111" stroke-width="1.1"/>
<rect x="301.9" y="250.4" width="72" height="135.0" fill="#000"/>
<line x1="337.90" y1="225.10" x2="337.90" y2="250.60" stroke="#111" stroke-width="1.1"/>
<line x1="320.00" y1="225.10" x2="356.00" y2="225.10" stroke="#111" stroke-width="1.1"/>
<text x="338.00" y="223.70" font-size="13.5" font-weight="bold" text-anchor="middle" >*</text>
<text x="232.60" y="401.50" font-size="12.5" font-weight="bold" text-anchor="middle" >Raji-CD4/DCIR-</text>
<text x="337.70" y="401.50" font-size="12.5" font-weight="bold" text-anchor="middle" >Raji-CD4/DCIR+</text>
<text x="112.60" y="433.40" font-size="16.8" font-weight="bold" text-anchor="start" >C</text>
<line x1="178.30" y1="424.80" x2="178.30" y2="502.80" stroke="#111" stroke-width="1.1"/>
<line x1="178.30" y1="511.30" x2="178.30" y2="587.20" stroke="#111" stroke-width="1.1"/>
<line x1="172.80" y1="424.80" x2="178.30" y2="424.80" stroke="#111" stroke-width="1.1"/>
<text x="168.00" y="427.60" font-size="10.2" font-weight="normal" text-anchor="end" >800</text>
<line x1="172.80" y1="463.80" x2="178.30" y2="463.80" stroke="#111" stroke-width="1.1"/>
<text x="168.00" y="466.60" font-size="10.2" font-weight="normal" text-anchor="end" >600</text>
<line x1="172.80" y1="502.80" x2="178.30" y2="502.80" stroke="#111" stroke-width="1.1"/>
<text x="168.00" y="505.60" font-size="10.2" font-weight="normal" text-anchor="end" >400</text>
<line x1="172.80" y1="502.80" x2="182.30" y2="502.80" stroke="#111" stroke-width="1.1"/>
<line x1="173.00" y1="511.30" x2="182.60" y2="511.30" stroke="#111" stroke-width="1.1"/>
<line x1="172.80" y1="536.60" x2="178.30" y2="536.60" stroke="#111" stroke-width="1.1"/>
<text x="168.00" y="539.40" font-size="10.2" font-weight="normal" text-anchor="end" >100</text>
<line x1="172.80" y1="587.20" x2="178.30" y2="587.20" stroke="#111" stroke-width="1.1"/>
<text x="168.00" y="590.00" font-size="10.2" font-weight="normal" text-anchor="end" >0</text>
<line x1="172.80" y1="587.20" x2="393.50" y2="587.20" stroke="#111" stroke-width="1.1"/>
<line x1="214.20" y1="587.20" x2="214.20" y2="590.30" stroke="#111" stroke-width="1.1"/>
<text x="214.20" y="600.80" font-size="9.0" font-weight="normal" text-anchor="middle" >3</text>
<line x1="285.60" y1="587.20" x2="285.60" y2="590.30" stroke="#111" stroke-width="1.1"/>
<text x="285.60" y="600.80" font-size="9.0" font-weight="normal" text-anchor="middle" >6</text>
<line x1="357.00" y1="587.20" x2="357.00" y2="590.30" stroke="#111" stroke-width="1.1"/>
<text x="357.00" y="600.80" font-size="9.0" font-weight="normal" text-anchor="middle" >9</text>
<text x="216.00" y="614.30" font-size="14.4" font-weight="bold" text-anchor="start" >Days after infection</text>
<text transform="translate(139.7,501.6) rotate(-90)" font-size="10.6" font-weight="bold" text-anchor="middle">p24 (ng/mL)</text>
<line x1="214.20" y1="586.00" x2="285.90" y2="531.00" stroke="#111" stroke-width="1.3"/>
<line x1="285.90" y1="531.00" x2="305.16" y2="511.50" stroke="#111" stroke-width="1.3"/>
<line x1="313.95" y1="502.60" x2="357.80" y2="458.20" stroke="#111" stroke-width="1.3"/>
<line x1="214.20" y1="586.00" x2="285.90" y2="553.60" stroke="#111" stroke-width="1.3"/>
<line x1="285.90" y1="553.60" x2="331.69" y2="511.50" stroke="#111" stroke-width="1.3"/>
<line x1="341.38" y1="502.60" x2="357.80" y2="487.50" stroke="#111" stroke-width="1.3"/>
<line x1="285.90" y1="517.50" x2="285.90" y2="542.40" stroke="#111" stroke-width="1.3"/>
<line x1="283.20" y1="517.50" x2="288.60" y2="517.50" stroke="#111" stroke-width="1.3"/>
<line x1="283.20" y1="542.40" x2="288.60" y2="542.40" stroke="#111" stroke-width="1.3"/>
<line x1="285.90" y1="542.90" x2="285.90" y2="563.70" stroke="#111" stroke-width="1.3"/>
<line x1="283.20" y1="542.90" x2="288.60" y2="542.90" stroke="#111" stroke-width="1.3"/>
<line x1="283.20" y1="563.70" x2="288.60" y2="563.70" stroke="#111" stroke-width="1.3"/>
<line x1="357.80" y1="447.20" x2="357.80" y2="469.30" stroke="#111" stroke-width="1.3"/>
<line x1="355.10" y1="447.20" x2="360.50" y2="447.20" stroke="#111" stroke-width="1.3"/>
<line x1="355.10" y1="469.30" x2="360.50" y2="469.30" stroke="#111" stroke-width="1.3"/>
<line x1="357.80" y1="480.60" x2="357.80" y2="495.50" stroke="#111" stroke-width="1.3"/>
<line x1="355.10" y1="480.60" x2="360.50" y2="480.60" stroke="#111" stroke-width="1.3"/>
<line x1="355.10" y1="495.50" x2="360.50" y2="495.50" stroke="#111" stroke-width="1.3"/>
<rect x="211.00" y="582.80" width="6.4" height="6.4" fill="#fff" stroke="#000" stroke-width="1.1"/>
<rect x="282.70" y="550.40" width="6.4" height="6.4" fill="#fff" stroke="#000" stroke-width="1.1"/>
<rect x="354.60" y="484.30" width="6.4" height="6.4" fill="#fff" stroke="#000" stroke-width="1.1"/>
<rect x="211.00" y="582.80" width="6.4" height="6.4" fill="#000" stroke="#000" stroke-width="1.1"/>
<rect x="282.70" y="527.80" width="6.4" height="6.4" fill="#000" stroke="#000" stroke-width="1.1"/>
<rect x="354.60" y="455.00" width="6.4" height="6.4" fill="#000" stroke="#000" stroke-width="1.1"/>
<text x="357.60" y="446.60" font-size="14" font-weight="bold" text-anchor="middle" >*</text>
<line x1="184.30" y1="427.70" x2="206.00" y2="427.70" stroke="#111" stroke-width="1.1"/>
<rect x="192.80" y="424.60" width="6.2" height="6.2" fill="#fff" stroke="#000" stroke-width="1.1"/>
<line x1="184.30" y1="438.10" x2="206.00" y2="438.10" stroke="#111" stroke-width="1.1"/>
<rect x="192.80" y="435.10" width="6.2" height="6.2" fill="#000" stroke="#000" stroke-width="1.1"/>
<text x="212.6" y="430.9" font-size="9">Raji-CD4/DCIR<tspan font-size="5.5" dy="-3.2">&#8722;</tspan></text>
<text x="212.6" y="441.0" font-size="9">Raji-CD4/DCIR<tspan font-size="5.5" dy="-3.2">+</tspan></text>
</svg></body></html>
